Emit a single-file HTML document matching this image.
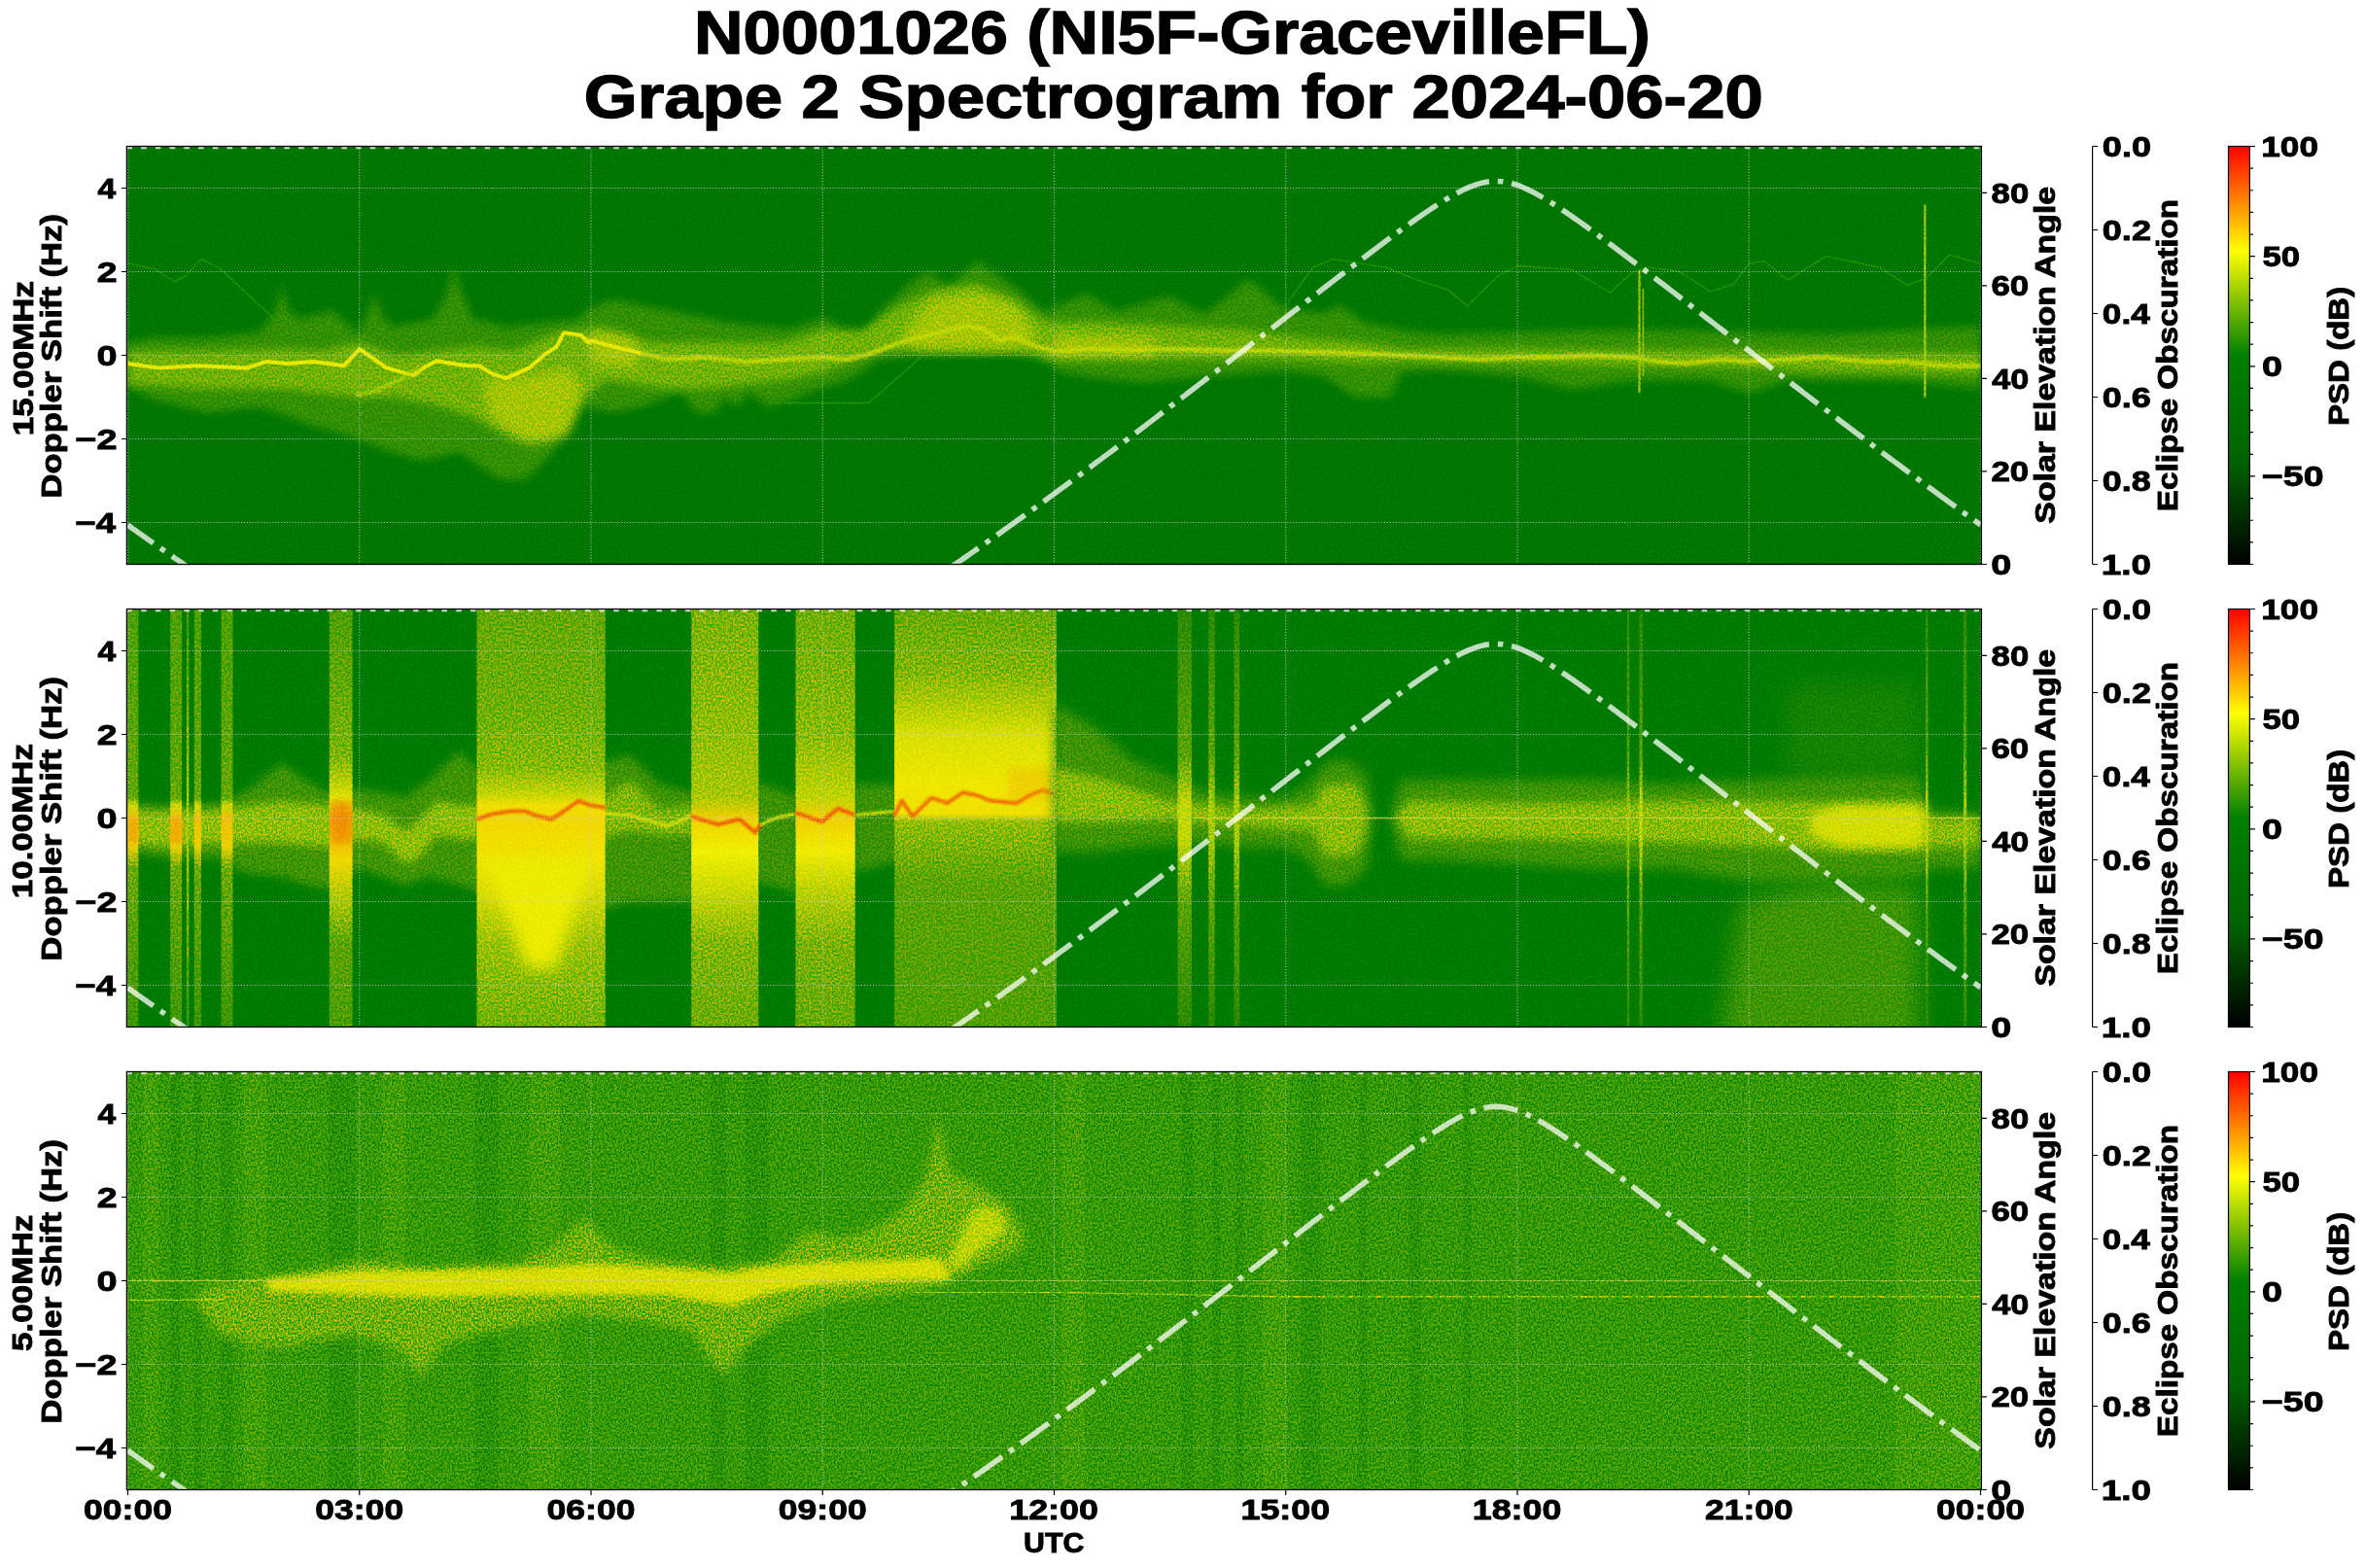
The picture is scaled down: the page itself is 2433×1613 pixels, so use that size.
<!DOCTYPE html><html><head><meta charset="utf-8"><style>html,body{margin:0;padding:0;background:#fff;overflow:hidden}svg{display:block;will-change:transform}text{font-family:'Liberation Sans',sans-serif;font-weight:bold}</style></head><body>
<svg width="2433" height="1613" viewBox="0 0 2433 1613">
<rect width="100%" height="100%" fill="#fff"/>
<defs><linearGradient id="cbg" x1="0" y1="1" x2="0" y2="0"><stop offset="0" stop-color="#000"/><stop offset="0.25" stop-color="#006400"/><stop offset="0.5" stop-color="#008000"/><stop offset="0.75" stop-color="#ffff00"/><stop offset="1" stop-color="#ff0000"/></linearGradient><filter id="b1" x="-20%" y="-50%" width="140%" height="200%"><feGaussianBlur stdDeviation="1"/></filter><filter id="b1_5" x="-20%" y="-50%" width="140%" height="200%"><feGaussianBlur stdDeviation="1.5"/></filter><filter id="b2" x="-20%" y="-50%" width="140%" height="200%"><feGaussianBlur stdDeviation="2"/></filter><filter id="b3" x="-20%" y="-50%" width="140%" height="200%"><feGaussianBlur stdDeviation="3"/></filter><filter id="b4" x="-20%" y="-50%" width="140%" height="200%"><feGaussianBlur stdDeviation="4"/></filter><filter id="b5" x="-20%" y="-50%" width="140%" height="200%"><feGaussianBlur stdDeviation="5"/></filter><filter id="b6" x="-20%" y="-50%" width="140%" height="200%"><feGaussianBlur stdDeviation="6"/></filter><filter id="b8" x="-20%" y="-50%" width="140%" height="200%"><feGaussianBlur stdDeviation="8"/></filter><filter id="b12" x="-20%" y="-50%" width="140%" height="200%"><feGaussianBlur stdDeviation="12"/></filter><filter id="grain0" x="0" y="0" width="100%" height="100%" color-interpolation-filters="sRGB"><feTurbulence type="fractalNoise" baseFrequency="0.55 0.45" numOctaves="2" seed="7"/><feColorMatrix type="matrix" values="1 0 0 0 0 1 0 0 0 0 1 0 0 0 0 0 0 0 0 1"/><feComponentTransfer><feFuncR type="linear" slope="3" intercept="-1"/></feComponentTransfer><feColorMatrix type="matrix" values="1 0 0 0 0 0.1 0 0 0 0.45 0 0 0 0 0.5 0 0 0 0 1"/></filter><filter id="grain1" x="0" y="0" width="100%" height="100%" color-interpolation-filters="sRGB"><feTurbulence type="fractalNoise" baseFrequency="0.55 0.45" numOctaves="2" seed="11"/><feColorMatrix type="matrix" values="1 0 0 0 0 1 0 0 0 0 1 0 0 0 0 0 0 0 0 1"/><feComponentTransfer><feFuncR type="linear" slope="3" intercept="-1"/></feComponentTransfer><feColorMatrix type="matrix" values="1 0 0 0 0 0.1 0 0 0 0.45 0 0 0 0 0.5 0 0 0 0 1"/></filter><filter id="grain2" x="0" y="0" width="100%" height="100%" color-interpolation-filters="sRGB"><feTurbulence type="fractalNoise" baseFrequency="0.55 0.45" numOctaves="2" seed="5"/><feColorMatrix type="matrix" values="1 0 0 0 0 1 0 0 0 0 1 0 0 0 0 0 0 0 0 1"/><feComponentTransfer><feFuncR type="linear" slope="3" intercept="-1"/></feComponentTransfer><feColorMatrix type="matrix" values="1 0 0 0 0 0.2 0 0 0 0.4 0 0 0 0 0.5 0 0 0 0 1"/></filter></defs>
<text x="714.02" y="55.00" font-size="63" textLength="983.76" lengthAdjust="spacingAndGlyphs" fill="#000" stroke="#000" stroke-width="1.4">N0001026 (NI5F-GracevilleFL)</text>
<text x="600.80" y="121.30" font-size="63" textLength="1212.89" lengthAdjust="spacingAndGlyphs" fill="#000" stroke="#000" stroke-width="1.4">Grape 2 Spectrogram for 2024-06-20</text>
<clipPath id="cp0"><rect x="130.4" y="150.5" width="1908.0" height="430.0"/></clipPath>
<g clip-path="url(#cp0)">
<rect x="130.4" y="150.5" width="1908.0" height="430.0" fill="#007600"/><polygon points="130.0,353.0 157.4,347.5 212.3,347.5 267.1,342.0 283.6,320.0 289.0,295.4 297.3,320.0 308.2,328.3 322.0,324.8 341.1,320.0 368.6,342.0 379.5,320.0 385.0,300.9 393.3,325.5 404.2,336.5 431.6,331.0 445.4,328.3 459.1,303.6 467.3,273.4 472.8,293.5 475.5,303.6 486.5,328.3 513.9,334.6 522.1,336.5 541.3,334.2 568.8,331.0 596.2,328.3 600.0,320.5 630.4,308.3 660.9,314.4 691.3,320.5 700.4,322.3 715.6,325.3 737.0,329.6 743.0,330.8 752.2,332.6 758.3,333.3 770.4,334.5 788.7,336.3 813.1,338.7 843.5,328.6 849.6,326.6 873.9,344.8 889.2,347.9 892.2,342.4 904.4,320.5 934.8,293.1 950.0,282.2 956.1,277.9 974.4,296.1 1004.8,268.7 1041.4,293.1 1071.8,318.0 1074.8,320.5 1087.0,315.3 1117.5,302.2 1147.9,320.5 1178.3,312.0 1202.7,305.3 1239.2,323.5 1284.9,287.0 1319.9,317.4 1362.5,322.5 1378.3,313.9 1394.2,325.4 1402.2,331.1 1430.0,337.1 1441.9,339.7 1481.6,344.0 1561.0,341.9 1616.6,340.3 1640.4,339.7 1680.1,339.7 1719.8,339.7 1759.5,340.8 1799.2,341.9 1839.0,342.9 1878.7,344.0 1958.1,339.7 2037.5,335.4 2037.5,399.9 1958.1,391.3 1878.7,391.3 1839.0,391.3 1799.2,404.2 1759.5,391.3 1719.8,391.3 1680.1,391.3 1640.4,396.7 1616.6,399.9 1561.0,387.0 1481.6,380.6 1441.9,382.7 1430.0,408.5 1402.2,408.5 1394.2,408.5 1378.3,397.7 1362.5,387.0 1319.9,381.4 1284.9,384.0 1239.2,387.4 1202.7,391.1 1178.3,393.5 1147.9,390.5 1117.5,387.4 1087.0,381.4 1074.8,368.0 1071.8,364.6 1041.4,364.6 1004.8,364.6 974.4,364.6 956.1,364.6 950.0,364.6 934.8,366.1 904.4,369.2 892.2,378.3 889.2,380.3 873.9,390.5 849.6,397.8 843.5,399.6 813.1,411.8 788.7,417.9 770.4,402.7 758.3,417.9 752.2,414.2 743.0,408.8 737.0,424.0 715.6,424.0 700.4,402.7 691.3,406.2 660.9,417.9 630.4,424.0 600.0,417.9 596.2,423.7 568.8,465.4 541.3,492.8 522.1,492.8 513.9,492.8 486.5,474.6 475.5,467.2 472.8,465.4 467.3,466.5 459.1,468.2 445.4,470.9 431.6,473.6 404.2,465.4 393.3,461.2 385.0,458.0 379.5,455.9 368.6,451.7 341.1,443.6 322.0,438.0 308.2,433.2 297.3,429.3 289.0,426.5 283.6,424.5 267.1,418.8 212.3,424.3 157.4,410.6 130.0,396.8" fill="#329000" fill-opacity="1" filter="url(#b4)"/><polygon points="131.5,361.2 210.9,361.2 290.3,359.1 330.0,361.2 369.8,352.6 409.5,365.5 449.2,361.2 488.9,356.9 528.6,361.2 568.3,344.0 600.1,339.7 623.9,339.7 655.6,350.4 687.4,352.6 727.1,352.6 766.8,352.6 806.5,352.6 846.2,339.7 886.0,339.7 901.8,331.1 925.7,313.9 965.4,296.7 1005.1,292.4 1044.8,309.6 1076.6,331.1 1124.2,331.1 1203.6,335.4 1283.0,339.7 1322.8,346.1 1402.2,352.6 1441.9,359.1 1561.0,359.1 1799.2,361.2 1878.7,363.4 2037.5,363.4 2037.5,384.9 1878.7,382.7 1799.2,378.4 1561.0,374.1 1441.9,371.9 1402.2,374.1 1322.8,369.8 1283.0,369.8 1203.6,369.8 1124.2,369.8 1076.6,369.8 1044.8,361.2 1005.1,361.2 965.4,361.2 925.7,361.2 901.8,363.4 886.0,367.6 846.2,382.7 806.5,391.3 766.8,395.6 727.1,399.9 687.4,399.9 655.6,395.6 623.9,391.3 600.1,408.5 568.3,451.5 528.6,451.5 488.9,430.0 449.2,417.1 409.5,408.5 369.8,408.5 330.0,404.2 290.3,399.9 210.9,399.9 131.5,395.6" fill="#70b200" fill-opacity="1" filter="url(#b4)"/><polygon points="496.8,391.3 544.5,387.0 584.2,378.4 600.1,399.9 584.2,447.2 544.5,455.8 504.8,430.0" fill="#a4c600" filter="url(#b6)"/><polygon points="925.7,348.3 957.4,309.6 1005.1,301.0 1044.8,313.9 1068.6,348.3 1044.8,359.1 949.5,359.1" fill="#a4c600" filter="url(#b6)"/><polygon points="1084.5,344.0 1187.7,348.3 1187.7,365.5 1084.5,365.5" fill="#a4c600" filter="url(#b6)"/><polygon points="608.0,339.7 655.6,348.3 655.6,378.4 608.0,374.1" fill="#a4c600" filter="url(#b6)"/><polyline points="659.6,363.4 687.4,369.8 727.1,367.6 766.8,371.9 806.5,369.8 846.2,367.6 870.1,369.8 889.9,365.5 925.7,352.6 957.4,344.0 997.1,335.4 1013.0,339.7 1028.9,350.4 1044.8,346.1 1060.7,354.8 1084.5,361.2 1124.2,359.1 1163.9,360.3 1203.6,359.1 1243.3,360.3 1322.8,361.2 1402.2,363.4 1441.9,365.5 1481.6,367.6 1521.3,369.8 1561.0,367.6 1600.7,367.6 1640.4,365.5 1680.1,367.6 1704.0,371.9 1735.7,374.1 1767.5,369.8 1799.2,371.9 1839.0,369.8 1878.7,367.6 1918.4,371.9 1958.1,371.9 1997.8,376.2 2037.5,376.2" fill="none" stroke="#c8da00" stroke-width="4" stroke-opacity="1" stroke-linejoin="round" filter="url(#b1_5)"/><polyline points="131.5,374.1 163.3,378.4 203.0,376.2 254.6,378.4 274.5,371.9 295.9,374.1 322.1,371.9 353.9,376.2 369.8,359.1 397.5,378.4 425.3,386.1 435.7,378.4 449.2,371.1 465.1,374.1 480.9,376.2 492.8,376.2 507.1,384.9 520.6,389.1 544.5,378.4 561.9,363.4 572.3,356.9 580.2,342.3 597.7,344.9 605.6,352.6 608.0,350.4 631.8,356.9 659.6,363.4" fill="none" stroke="#e6e800" stroke-width="4" stroke-opacity="1" stroke-linejoin="round" filter="url(#b1_2)"/><polyline points="365.8,406.4 385.6,402.1 409.5,391.3 433.3,378.4" fill="none" stroke="#b8d400" stroke-width="3.5" stroke-opacity="0.9" stroke-linejoin="round" filter="url(#b1_5)"/><polyline points="1686.5,277.4 1686.5,404.2" fill="none" stroke="#a8cc00" stroke-width="2.2" stroke-opacity="0.9" stroke-linejoin="round"/><polyline points="1690.4,296.7 1690.4,387.0" fill="none" stroke="#a8cc00" stroke-width="1.5" stroke-opacity="0.8" stroke-linejoin="round"/><polyline points="1980.3,210.7 1980.3,408.5" fill="none" stroke="#b0d000" stroke-width="2.2" stroke-opacity="0.9" stroke-linejoin="round"/><polyline points="131.5,270.9 159.3,276.5 179.2,289.8 191.1,283.8 206.9,266.6 226.8,276.5 282.4,328.5 314.2,344.0" fill="none" stroke="#2c9a00" stroke-width="1.3" stroke-opacity="0.8" stroke-linejoin="round"/><polyline points="790.7,414.5 893.9,414.5 949.5,365.5" fill="none" stroke="#2c9a00" stroke-width="1.3" stroke-opacity="0.8" stroke-linejoin="round"/><polyline points="1283.0,326.8 1322.8,313.9 1350.5,275.2 1370.4,266.6 1426.0,275.2 1457.8,288.1 1489.5,298.0 1509.4,314.8 1541.1,283.8 1561.0,273.5 1616.6,277.4 1656.3,301.0 1680.1,279.5 1696.0,274.8 1727.8,279.5 1759.5,300.1 1783.4,292.4 1799.2,270.9 1815.1,268.8 1839.0,288.1 1878.7,263.6 1934.3,275.2 1962.1,293.7 1981.9,285.9 2005.7,262.3 2037.5,270.9" fill="none" stroke="#2c9a00" stroke-width="1.3" stroke-opacity="0.8" stroke-linejoin="round"/>
<rect x="130.4" y="150.5" width="1908.0" height="430.0" filter="url(#grain0)" style="mix-blend-mode:overlay" opacity="0.6"/>
<path d="M131.50 150.5V580.5M369.75 150.5V580.5M608.00 150.5V580.5M846.25 150.5V580.5M1084.50 150.5V580.5M1322.75 150.5V580.5M1561.00 150.5V580.5M1799.25 150.5V580.5M2037.50 150.5V580.5M130.4 537.50H2038.4M130.4 451.50H2038.4M130.4 365.50H2038.4M130.4 279.50H2038.4M130.4 193.50H2038.4" stroke="#c8c8c8" stroke-opacity="0.85" stroke-width="1.11" stroke-dasharray="1.11 1.83" fill="none"/>
<path d="M130.4 150.50H2038.4" stroke="#fff" stroke-opacity="0.75" stroke-width="5.56" stroke-dasharray="5.56 9.17" fill="none"/>
<polyline points="131.50,540.12 134.15,542.02 136.79,543.91 139.44,545.79 142.09,547.68 144.74,549.56 147.38,551.43 150.03,553.31 152.68,555.18 155.32,557.04 157.97,558.90 160.62,560.76 163.27,562.62 165.91,564.47 168.56,566.32 171.21,568.16 173.86,570.00 176.50,571.84 179.15,573.67 181.80,575.50 184.44,577.32 187.09,579.14 189.74,580.96 192.39,582.77 195.03,584.58 197.68,586.38 200.33,588.18 202.98,589.97 205.62,591.76 208.27,593.54 210.92,595.32 213.56,597.10 216.21,598.87 218.86,600.63 221.51,602.39 224.15,604.15 226.80,605.90 229.45,607.64 232.09,609.38 234.74,611.12 237.39,612.84 240.04,614.57 242.68,616.29 245.33,618.00 247.98,619.70 250.62,621.40 253.27,623.10 255.92,624.79 258.57,626.47 261.21,628.15 263.86,629.82 266.51,631.48 269.16,633.14 271.80,634.79 274.45,636.44 277.10,638.07 279.74,639.71 282.39,641.33 285.04,642.95 287.69,644.56 290.33,646.16 292.98,647.76 295.63,649.35 298.27,650.93 300.92,652.50 303.57,654.07 306.22,655.63 308.86,657.18 311.51,658.72 314.16,660.26 316.81,661.79 319.45,663.31 322.10,664.82 324.75,666.32 327.39,667.81 330.04,669.30 332.69,670.77 335.34,672.24 337.98,673.70 340.63,675.14 343.28,676.58 345.93,678.01 348.57,679.43 351.22,680.85 353.87,682.25 356.51,683.64 359.16,685.02 361.81,686.39 364.46,687.75 367.10,689.10 369.75,690.44 372.40,691.77 375.04,693.09 377.69,694.39 380.34,695.69 382.99,696.97 385.63,698.25 388.28,699.51 390.93,700.76 393.57,701.99 396.22,703.22 398.87,704.43 401.52,705.64 404.16,706.82 406.81,708.00 409.46,709.16 412.11,710.32 414.75,711.45 417.40,712.58 420.05,713.69 422.69,714.79 425.34,715.87 427.99,716.94 430.64,718.00 433.28,719.04 435.93,720.07 438.58,721.08 441.23,722.08 443.87,723.06 446.52,724.03 449.17,724.99 451.81,725.93 454.46,726.85 457.11,727.76 459.76,728.65 462.40,729.53 465.05,730.39 467.70,731.24 470.34,732.06 472.99,732.88 475.64,733.67 478.29,734.45 480.93,735.21 483.58,735.96 486.23,736.69 488.88,737.40 491.52,738.09 494.17,738.77 496.82,739.43 499.46,740.07 502.11,740.69 504.76,741.30 507.41,741.88 510.05,742.45 512.70,743.00 515.35,743.53 517.99,744.05 520.64,744.54 523.29,745.02 525.94,745.47 528.58,745.91 531.23,746.33 533.88,746.73 536.52,747.11 539.17,747.47 541.82,747.81 544.47,748.13 547.11,748.43 549.76,748.72 552.41,748.98 555.06,749.22 557.70,749.45 560.35,749.65 563.00,749.83 565.64,749.99 568.29,750.14 570.94,750.26 573.59,750.36 576.23,750.45 578.88,750.51 581.53,750.55 584.18,750.57 586.82,750.58 589.47,750.56 592.12,750.52 594.76,750.46 597.41,750.38 600.06,750.29 602.71,750.17 605.35,750.03 608.00,749.87 610.65,749.69 613.29,749.49 615.94,749.27 618.59,749.04 621.24,748.78 623.88,748.50 626.53,748.20 629.18,747.89 631.83,747.55 634.47,747.19 637.12,746.82 639.77,746.42 642.41,746.01 645.06,745.57 647.71,745.12 650.36,744.65 653.00,744.16 655.65,743.65 658.30,743.12 660.94,742.58 663.59,742.01 666.24,741.43 668.89,740.83 671.53,740.21 674.18,739.58 676.83,738.92 679.48,738.25 682.12,737.56 684.77,736.85 687.42,736.13 690.06,735.39 692.71,734.63 695.36,733.85 698.01,733.06 700.65,732.25 703.30,731.43 705.95,730.59 708.59,729.73 711.24,728.85 713.89,727.97 716.54,727.06 719.18,726.14 721.83,725.20 724.48,724.25 727.12,723.29 729.77,722.31 732.42,721.31 735.07,720.30 737.71,719.28 740.36,718.24 743.01,717.18 745.66,716.12 748.30,715.04 750.95,713.94 753.60,712.83 756.24,711.71 758.89,710.58 761.54,709.43 764.19,708.27 766.83,707.09 769.48,705.91 772.13,704.71 774.77,703.50 777.42,702.28 780.07,701.04 782.72,699.79 785.36,698.53 788.01,697.26 790.66,695.98 793.31,694.69 795.95,693.39 798.60,692.07 801.25,690.74 803.89,689.41 806.54,688.06 809.19,686.70 811.84,685.33 814.48,683.95 817.13,682.57 819.78,681.17 822.42,679.76 825.07,678.34 827.72,676.91 830.37,675.48 833.01,674.03 835.66,672.57 838.31,671.11 840.96,669.63 843.60,668.15 846.25,666.66 848.90,665.16 851.54,663.65 854.19,662.13 856.84,660.61 859.49,659.08 862.13,657.54 864.78,655.99 867.43,654.43 870.08,652.86 872.72,651.29 875.37,649.71 878.02,648.12 880.66,646.53 883.31,644.93 885.96,643.32 888.61,641.70 891.25,640.08 893.90,638.45 896.55,636.81 899.19,635.17 901.84,633.52 904.49,631.86 907.14,630.20 909.78,628.53 912.43,626.86 915.08,625.17 917.73,623.49 920.37,621.79 923.02,620.09 925.67,618.39 928.31,616.68 930.96,614.96 933.61,613.24 936.26,611.51 938.90,609.78 941.55,608.04 944.20,606.30 946.84,604.55 949.49,602.80 952.14,601.04 954.79,599.27 957.43,597.50 960.08,595.73 962.73,593.95 965.38,592.17 968.02,590.38 970.67,588.59 973.32,586.79 975.96,584.99 978.61,583.18 981.26,581.37 983.91,579.56 986.55,577.74 989.20,575.92 991.85,574.09 994.49,572.26 997.14,570.42 999.79,568.58 1002.44,566.74 1005.08,564.89 1007.73,563.04 1010.38,561.19 1013.02,559.33 1015.67,557.47 1018.32,555.60 1020.97,553.74 1023.61,551.86 1026.26,549.99 1028.91,548.11 1031.56,546.23 1034.20,544.34 1036.85,542.45 1039.50,540.56 1042.14,538.66 1044.79,536.76 1047.44,534.86 1050.09,532.96 1052.73,531.05 1055.38,529.14 1058.03,527.22 1060.67,525.31 1063.32,523.39 1065.97,521.47 1068.62,519.54 1071.26,517.61 1073.91,515.68 1076.56,513.75 1079.21,511.81 1081.85,509.88 1084.50,507.94 1087.15,505.99 1089.79,504.05 1092.44,502.10 1095.09,500.15 1097.74,498.20 1100.38,496.24 1103.03,494.28 1105.68,492.32 1108.33,490.36 1110.97,488.40 1113.62,486.43 1116.27,484.46 1118.91,482.49 1121.56,480.52 1124.21,478.54 1126.86,476.57 1129.50,474.59 1132.15,472.61 1134.80,470.62 1137.44,468.64 1140.09,466.65 1142.74,464.67 1145.39,462.68 1148.03,460.68 1150.68,458.69 1153.33,456.70 1155.98,454.70 1158.62,452.70 1161.27,450.70 1163.92,448.70 1166.56,446.69 1169.21,444.69 1171.86,442.68 1174.51,440.68 1177.15,438.67 1179.80,436.65 1182.45,434.64 1185.09,432.63 1187.74,430.61 1190.39,428.60 1193.04,426.58 1195.68,424.56 1198.33,422.54 1200.98,420.52 1203.62,418.50 1206.27,416.47 1208.92,414.45 1211.57,412.42 1214.21,410.39 1216.86,408.37 1219.51,406.34 1222.16,404.31 1224.80,402.27 1227.45,400.24 1230.10,398.21 1232.74,396.17 1235.39,394.14 1238.04,392.10 1240.69,390.07 1243.33,388.03 1245.98,385.99 1248.63,383.95 1251.28,381.91 1253.92,379.87 1256.57,377.83 1259.22,375.79 1261.86,373.74 1264.51,371.70 1267.16,369.66 1269.81,367.61 1272.45,365.57 1275.10,363.52 1277.75,361.48 1280.39,359.43 1283.04,357.39 1285.69,355.34 1288.34,353.29 1290.98,351.24 1293.63,349.20 1296.28,347.15 1298.92,345.10 1301.57,343.05 1304.22,341.00 1306.87,338.96 1309.51,336.91 1312.16,334.86 1314.81,332.81 1317.46,330.76 1320.10,328.71 1322.75,326.67 1325.40,324.62 1328.04,322.57 1330.69,320.53 1333.34,318.48 1335.99,316.43 1338.63,314.39 1341.28,312.34 1343.93,310.30 1346.58,308.26 1349.22,306.21 1351.87,304.17 1354.52,302.13 1357.16,300.09 1359.81,298.05 1362.46,296.01 1365.11,293.98 1367.75,291.94 1370.40,289.91 1373.05,287.88 1375.69,285.85 1378.34,283.82 1380.99,281.79 1383.64,279.77 1386.28,277.74 1388.93,275.72 1391.58,273.70 1394.23,271.69 1396.87,269.68 1399.52,267.67 1402.17,265.66 1404.81,263.66 1407.46,261.66 1410.11,259.66 1412.76,257.67 1415.40,255.68 1418.05,253.70 1420.70,251.72 1423.34,249.75 1425.99,247.78 1428.64,245.82 1431.29,243.86 1433.93,241.91 1436.58,239.97 1439.23,238.04 1441.88,236.11 1444.52,234.19 1447.17,232.29 1449.82,230.39 1452.46,228.50 1455.11,226.63 1457.76,224.77 1460.41,222.92 1463.05,221.09 1465.70,219.27 1468.35,217.48 1470.99,215.70 1473.64,213.94 1476.29,212.20 1478.94,210.49 1481.58,208.80 1484.23,207.15 1486.88,205.52 1489.53,203.93 1492.17,202.38 1494.82,200.87 1497.47,199.41 1500.11,197.99 1502.76,196.63 1505.41,195.32 1508.06,194.08 1510.70,192.92 1513.35,191.82 1516.00,190.81 1518.64,189.89 1521.29,189.06 1523.94,188.33 1526.59,187.71 1529.23,187.20 1531.88,186.81 1534.53,186.54 1537.17,186.39 1539.82,186.37 1542.47,186.48 1545.12,186.70 1547.76,187.05 1550.41,187.52 1553.06,188.10 1555.71,188.79 1558.35,189.59 1561.00,190.48 1563.65,191.46 1566.29,192.53 1568.94,193.67 1571.59,194.89 1574.24,196.17 1576.88,197.51 1579.53,198.91 1582.18,200.36 1584.83,201.85 1587.47,203.39 1590.12,204.97 1592.77,206.58 1595.41,208.23 1598.06,209.90 1600.71,211.60 1603.36,213.33 1606.00,215.08 1608.65,216.86 1611.30,218.65 1613.94,220.46 1616.59,222.29 1619.24,224.13 1621.89,225.98 1624.53,227.85 1627.18,229.73 1629.83,231.63 1632.47,233.53 1635.12,235.44 1637.77,237.37 1640.42,239.30 1643.06,241.24 1645.71,243.18 1648.36,245.14 1651.01,247.10 1653.65,249.06 1656.30,251.03 1658.95,253.01 1661.59,254.99 1664.24,256.98 1666.89,258.97 1669.54,260.96 1672.18,262.96 1674.83,264.96 1677.48,266.97 1680.12,268.98 1682.77,270.99 1685.42,273.00 1688.07,275.02 1690.71,277.04 1693.36,279.06 1696.01,281.09 1698.66,283.11 1701.30,285.14 1703.95,287.17 1706.60,289.20 1709.24,291.24 1711.89,293.27 1714.54,295.31 1717.19,297.34 1719.83,299.38 1722.48,301.42 1725.13,303.46 1727.78,305.50 1730.42,307.55 1733.07,309.59 1735.72,311.63 1738.36,313.68 1741.01,315.72 1743.66,317.77 1746.31,319.81 1748.95,321.86 1751.60,323.91 1754.25,325.96 1756.89,328.00 1759.54,330.05 1762.19,332.10 1764.84,334.15 1767.48,336.20 1770.13,338.24 1772.78,340.29 1775.42,342.34 1778.07,344.39 1780.72,346.44 1783.37,348.48 1786.01,350.53 1788.66,352.58 1791.31,354.63 1793.96,356.67 1796.60,358.72 1799.25,360.77 1801.90,362.81 1804.54,364.86 1807.19,366.90 1809.84,368.95 1812.49,370.99 1815.13,373.03 1817.78,375.08 1820.43,377.12 1823.08,379.16 1825.72,381.20 1828.37,383.24 1831.02,385.28 1833.66,387.32 1836.31,389.36 1838.96,391.39 1841.61,393.43 1844.25,395.47 1846.90,397.50 1849.55,399.53 1852.19,401.57 1854.84,403.60 1857.49,405.63 1860.14,407.66 1862.78,409.69 1865.43,411.72 1868.08,413.74 1870.72,415.77 1873.37,417.79 1876.02,419.81 1878.67,421.84 1881.31,423.86 1883.96,425.88 1886.61,427.89 1889.26,429.91 1891.90,431.93 1894.55,433.94 1897.20,435.95 1899.84,437.96 1902.49,439.97 1905.14,441.98 1907.79,443.99 1910.43,445.99 1913.08,448.00 1915.73,450.00 1918.38,452.00 1921.02,454.00 1923.67,456.00 1926.32,457.99 1928.96,459.99 1931.61,461.98 1934.26,463.97 1936.91,465.96 1939.55,467.95 1942.20,469.93 1944.85,471.91 1947.49,473.90 1950.14,475.87 1952.79,477.85 1955.44,479.83 1958.08,481.80 1960.73,483.77 1963.38,485.74 1966.03,487.71 1968.67,489.67 1971.32,491.64 1973.97,493.60 1976.61,495.55 1979.26,497.51 1981.91,499.46 1984.56,501.42 1987.20,503.36 1989.85,505.31 1992.50,507.25 1995.14,509.20 1997.79,511.14 2000.44,513.07 2003.09,515.01 2005.73,516.94 2008.38,518.87 2011.03,520.79 2013.67,522.71 2016.32,524.63 2018.97,526.55 2021.62,528.47 2024.26,530.38 2026.91,532.29 2029.56,534.19 2032.21,536.10 2034.85,538.00 2037.50,539.89" stroke="#fff" stroke-opacity="0.75" stroke-width="5.56" stroke-dasharray="35.6 8.9 5.56 8.9" fill="none" stroke-dashoffset="3.4"/>
</g>
<rect x="130.4" y="150.5" width="1908.0" height="430.0" fill="none" stroke="#000" stroke-width="1.3"/>
<text x="77.48" y="547.90" font-size="30" textLength="41.72" lengthAdjust="spacingAndGlyphs" fill="#000" stroke="#000" stroke-width="0.9">−4</text>
<text x="77.43" y="461.90" font-size="30" textLength="43.08" lengthAdjust="spacingAndGlyphs" fill="#000" stroke="#000" stroke-width="0.9">−2</text>
<text x="99.50" y="375.90" font-size="30" textLength="21.05" lengthAdjust="spacingAndGlyphs" fill="#000" stroke="#000" stroke-width="0.9">0</text>
<text x="99.70" y="289.90" font-size="30" textLength="20.79" lengthAdjust="spacingAndGlyphs" fill="#000" stroke="#000" stroke-width="0.9">2</text>
<text x="100.49" y="203.90" font-size="30" textLength="18.69" lengthAdjust="spacingAndGlyphs" fill="#000" stroke="#000" stroke-width="0.9">4</text>
<text x="2048.20" y="590.80" font-size="30" textLength="21.05" lengthAdjust="spacingAndGlyphs" fill="#000" stroke="#000" stroke-width="0.9">0</text>
<text x="2048.49" y="495.24" font-size="30" textLength="38.74" lengthAdjust="spacingAndGlyphs" fill="#000" stroke="#000" stroke-width="0.9">20</text>
<text x="2049.18" y="399.69" font-size="30" textLength="38.02" lengthAdjust="spacingAndGlyphs" fill="#000" stroke="#000" stroke-width="0.9">40</text>
<text x="2048.42" y="304.13" font-size="30" textLength="38.81" lengthAdjust="spacingAndGlyphs" fill="#000" stroke="#000" stroke-width="0.9">60</text>
<text x="2048.60" y="208.58" font-size="30" textLength="38.63" lengthAdjust="spacingAndGlyphs" fill="#000" stroke="#000" stroke-width="0.9">80</text>
<text x="2162.77" y="160.80" font-size="30" textLength="50.32" lengthAdjust="spacingAndGlyphs" fill="#000" stroke="#000" stroke-width="0.9">0.0</text>
<text x="2162.77" y="246.80" font-size="30" textLength="50.28" lengthAdjust="spacingAndGlyphs" fill="#000" stroke="#000" stroke-width="0.9">0.2</text>
<text x="2162.81" y="332.80" font-size="30" textLength="48.98" lengthAdjust="spacingAndGlyphs" fill="#000" stroke="#000" stroke-width="0.9">0.4</text>
<text x="2162.77" y="418.80" font-size="30" textLength="50.13" lengthAdjust="spacingAndGlyphs" fill="#000" stroke="#000" stroke-width="0.9">0.6</text>
<text x="2162.78" y="504.80" font-size="30" textLength="49.93" lengthAdjust="spacingAndGlyphs" fill="#000" stroke="#000" stroke-width="0.9">0.8</text>
<text x="2161.88" y="590.80" font-size="30" textLength="51.23" lengthAdjust="spacingAndGlyphs" fill="#000" stroke="#000" stroke-width="0.9">1.0</text>
<text x="2326.28" y="160.80" font-size="30" textLength="58.76" lengthAdjust="spacingAndGlyphs" fill="#000" stroke="#000" stroke-width="0.9">100</text>
<text x="2327.43" y="273.96" font-size="30" textLength="38.70" lengthAdjust="spacingAndGlyphs" fill="#000" stroke="#000" stroke-width="0.9">50</text>
<text x="2327.00" y="387.12" font-size="30" textLength="21.05" lengthAdjust="spacingAndGlyphs" fill="#000" stroke="#000" stroke-width="0.9">0</text>
<text x="2326.94" y="500.27" font-size="30" textLength="63.59" lengthAdjust="spacingAndGlyphs" fill="#000" stroke="#000" stroke-width="0.9">−50</text>
<path d="M124.9 537.50H130.4M124.9 451.50H130.4M124.9 365.50H130.4M124.9 279.50H130.4M124.9 193.50H130.4M2038.4 580.50h5.5M2038.4 484.94h5.5M2038.4 389.39h5.5M2038.4 293.83h5.5M2038.4 198.28h5.5M2152.6 150.5V580.5M2152.6 150.50h5.5M2152.6 236.50h5.5M2152.6 322.50h5.5M2152.6 408.50h5.5M2152.6 494.50h5.5M2152.6 580.50h5.5M2314.4 580.50h3.5M2314.4 557.87h3.5M2314.4 535.24h3.5M2314.4 512.61h3.5M2314.4 489.97h5.5M2314.4 467.34h3.5M2314.4 444.71h3.5M2314.4 422.08h3.5M2314.4 399.45h3.5M2314.4 376.82h5.5M2314.4 354.18h3.5M2314.4 331.55h3.5M2314.4 308.92h3.5M2314.4 286.29h3.5M2314.4 263.66h5.5M2314.4 241.03h3.5M2314.4 218.39h3.5M2314.4 195.76h3.5M2314.4 173.13h3.5M2314.4 150.50h5.5" stroke="#000" stroke-width="1.2" fill="none"/>
<rect x="2292.5" y="150.5" width="21.90000000000009" height="430.0" fill="url(#cbg)" stroke="#000" stroke-width="1.2"/>
<text transform="translate(33.60,446.00) rotate(-90)" x="-2.20" y="0" font-size="30" textLength="159.06" lengthAdjust="spacingAndGlyphs" fill="#000" stroke="#000" stroke-width="0.9">15.00MHz</text>
<text transform="translate(62.70,510.30) rotate(-90)" x="-2.32" y="0" font-size="30" textLength="292.64" lengthAdjust="spacingAndGlyphs" fill="#000" stroke="#000" stroke-width="0.9">Doppler Shift (Hz)</text>
<text transform="translate(2114.10,537.70) rotate(-90)" x="-0.97" y="0" font-size="30" textLength="346.83" lengthAdjust="spacingAndGlyphs" fill="#000" stroke="#000" stroke-width="0.9">Solar Elevation Angle</text>
<text transform="translate(2240.00,524.00) rotate(-90)" x="-2.22" y="0" font-size="30" textLength="321.28" lengthAdjust="spacingAndGlyphs" fill="#000" stroke="#000" stroke-width="0.9">Eclipse Obscuration</text>
<text transform="translate(2415.70,435.80) rotate(-90)" x="-2.21" y="0" font-size="30" textLength="143.26" lengthAdjust="spacingAndGlyphs" fill="#000" stroke="#000" stroke-width="0.9">PSD (dB)</text>
<clipPath id="cp1"><rect x="130.4" y="626.5" width="1908.0" height="430.0"/></clipPath>
<g clip-path="url(#cp1)">
<defs><linearGradient id="g1" x1="0" y1="0" x2="0" y2="1"><stop offset="0.000" stop-color="#4ca000"/><stop offset="0.450" stop-color="#60a800"/><stop offset="0.470" stop-color="#c8d800"/><stop offset="0.500" stop-color="#f0c000"/><stop offset="0.570" stop-color="#e8d000"/><stop offset="0.620" stop-color="#6aaa00"/><stop offset="1.000" stop-color="#3c9600"/></linearGradient><linearGradient id="g2" x1="0" y1="0" x2="0" y2="1"><stop offset="0.000" stop-color="#4ca000"/><stop offset="0.450" stop-color="#60a800"/><stop offset="0.470" stop-color="#c8d800"/><stop offset="0.500" stop-color="#f0c000"/><stop offset="0.570" stop-color="#e8d000"/><stop offset="0.620" stop-color="#6aaa00"/><stop offset="1.000" stop-color="#3c9600"/></linearGradient><linearGradient id="g3" x1="0" y1="0" x2="0" y2="1"><stop offset="0.000" stop-color="#4ca000"/><stop offset="0.450" stop-color="#60a800"/><stop offset="0.470" stop-color="#c8d800"/><stop offset="0.500" stop-color="#f0c000"/><stop offset="0.570" stop-color="#e8d000"/><stop offset="0.620" stop-color="#6aaa00"/><stop offset="1.000" stop-color="#3c9600"/></linearGradient><linearGradient id="g4" x1="0" y1="0" x2="0" y2="1"><stop offset="0.000" stop-color="#4ca000"/><stop offset="0.450" stop-color="#60a800"/><stop offset="0.470" stop-color="#c8d800"/><stop offset="0.500" stop-color="#f0c000"/><stop offset="0.570" stop-color="#e8d000"/><stop offset="0.620" stop-color="#6aaa00"/><stop offset="1.000" stop-color="#3c9600"/></linearGradient><linearGradient id="g5" x1="0" y1="0" x2="0" y2="1"><stop offset="0.000" stop-color="#3c9600"/><stop offset="0.500" stop-color="#b0d000"/><stop offset="1.000" stop-color="#3c9600"/></linearGradient><linearGradient id="g6" x1="0" y1="0" x2="0" y2="1"><stop offset="0.000" stop-color="#4a9e00"/><stop offset="0.350" stop-color="#78b400"/><stop offset="0.450" stop-color="#e0e000"/><stop offset="0.500" stop-color="#f0a000"/><stop offset="0.600" stop-color="#f0d800"/><stop offset="0.700" stop-color="#a8c800"/><stop offset="0.800" stop-color="#5aa400"/><stop offset="1.000" stop-color="#4a9e00"/></linearGradient><linearGradient id="g7" x1="0" y1="0" x2="0" y2="1"><stop offset="0.000" stop-color="#62a800"/><stop offset="0.250" stop-color="#6eb000"/><stop offset="0.380" stop-color="#84ba00"/><stop offset="0.440" stop-color="#c0d400"/><stop offset="0.470" stop-color="#f0e000"/><stop offset="0.500" stop-color="#f2d800"/><stop offset="0.600" stop-color="#f0e400"/><stop offset="0.680" stop-color="#d8dc00"/><stop offset="0.800" stop-color="#98c200"/><stop offset="1.000" stop-color="#70b200"/></linearGradient><linearGradient id="g8" x1="0" y1="0" x2="0" y2="1"><stop offset="0.000" stop-color="#78b200"/><stop offset="0.300" stop-color="#90be00"/><stop offset="0.450" stop-color="#a8c800"/><stop offset="0.500" stop-color="#f0d000"/><stop offset="0.580" stop-color="#f0f000"/><stop offset="0.680" stop-color="#c8d800"/><stop offset="0.800" stop-color="#80b600"/><stop offset="1.000" stop-color="#6aac00"/></linearGradient><linearGradient id="g9" x1="0" y1="0" x2="0" y2="1"><stop offset="0.000" stop-color="#6cae00"/><stop offset="0.300" stop-color="#88ba00"/><stop offset="0.450" stop-color="#c0d400"/><stop offset="0.500" stop-color="#f0d000"/><stop offset="0.580" stop-color="#f0ec00"/><stop offset="0.680" stop-color="#b8d000"/><stop offset="0.800" stop-color="#78b200"/><stop offset="1.000" stop-color="#64aa00"/></linearGradient><linearGradient id="g10" x1="0" y1="0" x2="0" y2="1"><stop offset="0.000" stop-color="#64aa00"/><stop offset="0.150" stop-color="#80b600"/><stop offset="0.300" stop-color="#d8e000"/><stop offset="0.420" stop-color="#f0e800"/><stop offset="0.490" stop-color="#f0e000"/><stop offset="0.510" stop-color="#90be00"/><stop offset="0.650" stop-color="#5aa400"/><stop offset="1.000" stop-color="#4ea000"/></linearGradient><linearGradient id="g11" x1="0" y1="0" x2="0" y2="1"><stop offset="0.000" stop-color="#2a8a00"/><stop offset="0.350" stop-color="#5aa400"/><stop offset="0.470" stop-color="#c0d800"/><stop offset="0.550" stop-color="#c0d800"/><stop offset="0.700" stop-color="#5aa400"/><stop offset="1.000" stop-color="#2a8a00"/></linearGradient><linearGradient id="g12" x1="0" y1="0" x2="0" y2="1"><stop offset="0.000" stop-color="#2a8a00"/><stop offset="0.350" stop-color="#5aa400"/><stop offset="0.470" stop-color="#a8cc00"/><stop offset="0.550" stop-color="#a8cc00"/><stop offset="0.700" stop-color="#5aa400"/><stop offset="1.000" stop-color="#2a8a00"/></linearGradient><linearGradient id="g13" x1="0" y1="0" x2="0" y2="1"><stop offset="0.000" stop-color="#2a8a00"/><stop offset="0.350" stop-color="#5aa400"/><stop offset="0.470" stop-color="#a8cc00"/><stop offset="0.550" stop-color="#a8cc00"/><stop offset="0.700" stop-color="#5aa400"/><stop offset="1.000" stop-color="#2a8a00"/></linearGradient><linearGradient id="g14" x1="0" y1="0" x2="0" y2="1"><stop offset="0.000" stop-color="#2a8a00"/><stop offset="0.350" stop-color="#5aa400"/><stop offset="0.470" stop-color="#a0c800"/><stop offset="0.550" stop-color="#a0c800"/><stop offset="0.700" stop-color="#5aa400"/><stop offset="1.000" stop-color="#2a8a00"/></linearGradient><linearGradient id="g15" x1="0" y1="0" x2="0" y2="1"><stop offset="0.000" stop-color="#2a8a00"/><stop offset="0.350" stop-color="#5aa400"/><stop offset="0.470" stop-color="#c0d800"/><stop offset="0.550" stop-color="#c0d800"/><stop offset="0.700" stop-color="#5aa400"/><stop offset="1.000" stop-color="#2a8a00"/></linearGradient><linearGradient id="g16" x1="0" y1="0" x2="0" y2="1"><stop offset="0.000" stop-color="#2a8a00"/><stop offset="0.350" stop-color="#5aa400"/><stop offset="0.470" stop-color="#c0d800"/><stop offset="0.550" stop-color="#c0d800"/><stop offset="0.700" stop-color="#5aa400"/><stop offset="1.000" stop-color="#2a8a00"/></linearGradient><linearGradient id="g17" x1="0" y1="0" x2="0" y2="1"><stop offset="0.000" stop-color="#2a8a00"/><stop offset="0.350" stop-color="#5aa400"/><stop offset="0.470" stop-color="#a0c800"/><stop offset="0.550" stop-color="#a0c800"/><stop offset="0.700" stop-color="#5aa400"/><stop offset="1.000" stop-color="#2a8a00"/></linearGradient></defs><rect x="130.4" y="626.5" width="1908.0" height="430.0" fill="#007b00"/><polygon points="131.5,826.5 171.2,828.6 226.8,826.5 250.6,815.7 290.3,785.6 314.2,802.8 338.0,815.7 369.8,811.4 393.6,815.7 417.4,820.0 441.2,802.8 473.0,772.7 496.8,798.5 496.8,918.9 473.0,910.3 441.2,901.7 417.4,910.3 393.6,901.7 369.8,893.1 338.0,914.6 314.2,910.3 290.3,901.7 250.6,897.4 226.8,882.4 171.2,882.4 131.5,875.9" fill="#3c9400" fill-opacity="1" filter="url(#b5)"/><polygon points="131.5,832.9 171.2,835.0 226.8,832.9 258.6,828.6 290.3,824.3 338.0,828.6 369.8,832.9 393.6,837.2 417.4,854.4 433.3,841.5 449.2,824.3 473.0,828.6 496.8,828.6 496.8,863.0 473.0,863.0 449.2,858.7 433.3,880.2 417.4,888.8 393.6,867.3 369.8,863.0 338.0,871.6 290.3,867.3 258.6,867.3 226.8,867.3 171.2,871.6 131.5,867.3" fill="#8cbe00" fill-opacity="1" filter="url(#b4)"/><polygon points="615.9,785.6 647.7,777.0 679.5,807.1 715.2,815.7 715.2,927.5 679.5,927.5 647.7,927.5 615.9,936.1" fill="#3c9400" fill-opacity="1" filter="url(#b5)"/><polygon points="615.9,824.3 647.7,802.8 679.5,832.9 715.2,828.6 715.2,858.7 679.5,858.7 647.7,854.4 615.9,863.0" fill="#80b800" fill-opacity="1" filter="url(#b4)"/><polygon points="774.8,802.8 822.4,820.0 822.4,918.9 774.8,906.0" fill="#3a9200" fill-opacity="1" filter="url(#b5)"/><polygon points="878.0,807.1 925.7,807.1 925.7,884.5 878.0,897.4" fill="#3a9200" fill-opacity="1" filter="url(#b5)"/><rect x="131.5" y="626.5" width="10.8" height="430.0" fill="url(#g1)" fill-opacity="1.0"/><rect x="175.2" y="626.5" width="11.9" height="430.0" fill="url(#g2)" fill-opacity="1.0"/><rect x="199.8" y="626.5" width="7.1" height="430.0" fill="url(#g3)" fill-opacity="1.0"/><rect x="227.6" y="626.5" width="11.9" height="430.0" fill="url(#g4)" fill-opacity="1.0"/><rect x="191.9" y="626.5" width="2.4" height="430.0" fill="url(#g5)" fill-opacity="1.0"/><rect x="338.8" y="626.5" width="23.8" height="430.0" fill="url(#g6)" fill-opacity="1.0"/><rect x="490.5" y="626.5" width="132.2" height="430.0" fill="url(#g7)" fill-opacity="1.0"/><polygon points="496.8,884.5 608.0,884.5 588.1,949.0 572.3,996.3 540.5,996.3 524.6,949.0" fill="#ecec00" filter="url(#b8)"/><rect x="711.2" y="626.5" width="69.1" height="430.0" fill="url(#g8)" fill-opacity="1.0"/><rect x="818.5" y="626.5" width="61.2" height="430.0" fill="url(#g9)" fill-opacity="1.0"/><rect x="920.1" y="626.5" width="166.8" height="430.0" fill="url(#g10)" fill-opacity="1.0"/><polyline points="490.5,842.8 507.1,837.2 524.6,834.6 540.5,834.6 552.4,839.4 567.5,842.8 576.2,837.2 595.3,823.9 608.0,828.6 623.1,830.8" fill="none" stroke="#f06800" stroke-width="4" stroke-opacity="1" stroke-linejoin="round" filter="url(#b1)"/><polyline points="622.1,837.2 648.1,838.6 686.5,849.5 711.2,839.9" fill="none" stroke="#d8e000" stroke-width="3" stroke-opacity="1" stroke-linejoin="round" filter="url(#b1)"/><polyline points="711.2,839.9 738.6,848.2 760.6,842.7 777.0,856.4 782.5,848.2" fill="none" stroke="#f06000" stroke-width="4" stroke-opacity="1" stroke-linejoin="round" filter="url(#b1)"/><polyline points="782.5,848.2 799.0,841.3 818.2,837.2" fill="none" stroke="#d8e000" stroke-width="3" stroke-opacity="1" stroke-linejoin="round" filter="url(#b1)"/><polyline points="818.2,835.8 845.6,845.4 862.0,831.7 879.9,838.6" fill="none" stroke="#f06000" stroke-width="4" stroke-opacity="1" stroke-linejoin="round" filter="url(#b1)"/><polyline points="879.9,838.6 919.6,834.4" fill="none" stroke="#d8e000" stroke-width="3" stroke-opacity="1" stroke-linejoin="round" filter="url(#b1)"/><polyline points="919.6,839.9 927.8,823.5 938.8,839.9 958.0,820.7 974.5,826.2 990.9,815.2 1004.6,818.0 1018.3,823.5 1045.8,826.2 1059.5,818.0 1073.2,812.5 1086.9,818.0" fill="none" stroke="#f07000" stroke-width="4" stroke-opacity="1" stroke-linejoin="round" filter="url(#b1)"/><rect x="131.5" y="841.5" width="10.8" height="25.8" fill="#f0a000" fill-opacity="0.7" filter="url(#b2)"/><rect x="175.2" y="841.5" width="11.9" height="25.8" fill="#f0a000" fill-opacity="0.7" filter="url(#b2)"/><rect x="342.0" y="824.3" width="18.3" height="43.0" fill="#f08000" fill-opacity="0.6" filter="url(#b3)"/><rect x="1036.9" y="789.9" width="47.6" height="34.4" fill="#f0a000" fill-opacity="0.3" filter="url(#b4)"/><polygon points="1084.5,725.4 1124.2,746.9 1163.9,781.3 1211.6,802.8 1243.3,815.7 1283.0,820.0 1322.8,820.0 1346.6,807.1 1362.5,785.6 1386.3,781.3 1406.1,798.5 1411.7,832.9 1411.7,850.1 1406.1,893.1 1386.3,910.3 1362.5,910.3 1346.6,884.5 1322.8,871.6 1283.0,871.6 1243.3,867.3 1211.6,867.3 1163.9,871.6 1124.2,875.9 1084.5,875.9" fill="#3c9400" fill-opacity="1" filter="url(#b6)"/><polygon points="1432.3,832.9 1441.9,802.8 1481.6,802.8 1561.0,802.8 1640.4,802.8 1719.8,807.1 1799.2,802.8 1878.7,798.5 1974.0,798.5 1983.5,832.9 2037.5,837.2 2037.5,893.1 1983.5,893.1 1974.0,901.7 1878.7,906.0 1799.2,906.0 1719.8,893.1 1640.4,893.1 1561.0,888.8 1481.6,884.5 1441.9,884.5 1432.3,850.1" fill="#3c9400" fill-opacity="1" filter="url(#b6)"/><polygon points="1084.5,789.9 1140.1,802.8 1203.6,824.3 1283.0,832.9 1350.5,828.6 1362.5,807.1 1394.2,807.1 1406.1,828.6 1406.1,854.4 1394.2,880.2 1362.5,880.2 1350.5,854.4 1283.0,850.1 1203.6,843.6 1140.1,845.8 1084.5,845.8" fill="#88bc00" fill-opacity="1" filter="url(#b5)"/><polygon points="1437.9,837.2 1449.8,824.3 1561.0,826.5 1719.8,824.3 1839.0,824.3 1878.7,824.3 1977.9,824.3 1985.9,841.5 2037.5,841.5 2037.5,871.6 1985.9,871.6 1977.9,875.9 1878.7,875.9 1839.0,871.6 1719.8,867.3 1561.0,863.0 1449.8,863.0 1437.9,845.8" fill="#88bc00" fill-opacity="1" filter="url(#b5)"/><polygon points="1862.8,837.2 1894.5,828.6 1974.0,828.6 1980.3,837.2 1980.3,863.0 1974.0,871.6 1894.5,871.6 1862.8,858.7" fill="#e0e400" fill-opacity="0.85" filter="url(#b5)"/><polygon points="1767.5,1082.3 1791.3,927.5 1862.8,910.3 1974.0,910.3 1974.0,1082.3" fill="#3c9600" filter="url(#b12)"/><polygon points="1839.0,703.9 1974.0,703.9 1974.0,798.5 1839.0,798.5" fill="#2e8c00" fill-opacity="0.45" filter="url(#b12)"/><rect x="1211.6" y="626.5" width="14.3" height="430.0" fill="url(#g11)" fill-opacity="1.0"/><rect x="1243.3" y="626.5" width="6.4" height="430.0" fill="url(#g12)" fill-opacity="1.0"/><rect x="1269.5" y="626.5" width="5.6" height="430.0" fill="url(#g13)" fill-opacity="1.0"/><rect x="1673.8" y="626.5" width="2.4" height="430.0" fill="url(#g14)" fill-opacity="1.0"/><rect x="1686.5" y="626.5" width="3.2" height="430.0" fill="url(#g15)" fill-opacity="1.0"/><rect x="1981.1" y="626.5" width="2.4" height="430.0" fill="url(#g16)" fill-opacity="1.0"/><rect x="2020.0" y="626.5" width="3.2" height="430.0" fill="url(#g17)" fill-opacity="1.0"/><polyline points="1227.5,841.5 2037.5,841.5" fill="none" stroke="#c8d800" stroke-width="1.5" stroke-opacity="0.8" stroke-linejoin="round"/>
<rect x="130.4" y="626.5" width="1908.0" height="430.0" filter="url(#grain1)" style="mix-blend-mode:overlay" opacity="0.7"/>
<path d="M131.50 626.5V1056.5M369.75 626.5V1056.5M608.00 626.5V1056.5M846.25 626.5V1056.5M1084.50 626.5V1056.5M1322.75 626.5V1056.5M1561.00 626.5V1056.5M1799.25 626.5V1056.5M2037.50 626.5V1056.5M130.4 1013.50H2038.4M130.4 927.50H2038.4M130.4 841.50H2038.4M130.4 755.50H2038.4M130.4 669.50H2038.4" stroke="#c8c8c8" stroke-opacity="0.85" stroke-width="1.11" stroke-dasharray="1.11 1.83" fill="none"/>
<path d="M130.4 626.50H2038.4" stroke="#fff" stroke-opacity="0.75" stroke-width="5.56" stroke-dasharray="5.56 9.17" fill="none"/>
<polyline points="131.50,1016.12 134.15,1018.02 136.79,1019.91 139.44,1021.79 142.09,1023.68 144.74,1025.56 147.38,1027.43 150.03,1029.31 152.68,1031.18 155.32,1033.04 157.97,1034.90 160.62,1036.76 163.27,1038.62 165.91,1040.47 168.56,1042.32 171.21,1044.16 173.86,1046.00 176.50,1047.84 179.15,1049.67 181.80,1051.50 184.44,1053.32 187.09,1055.14 189.74,1056.96 192.39,1058.77 195.03,1060.58 197.68,1062.38 200.33,1064.18 202.98,1065.97 205.62,1067.76 208.27,1069.54 210.92,1071.32 213.56,1073.10 216.21,1074.87 218.86,1076.63 221.51,1078.39 224.15,1080.15 226.80,1081.90 229.45,1083.64 232.09,1085.38 234.74,1087.12 237.39,1088.84 240.04,1090.57 242.68,1092.29 245.33,1094.00 247.98,1095.70 250.62,1097.40 253.27,1099.10 255.92,1100.79 258.57,1102.47 261.21,1104.15 263.86,1105.82 266.51,1107.48 269.16,1109.14 271.80,1110.79 274.45,1112.44 277.10,1114.07 279.74,1115.71 282.39,1117.33 285.04,1118.95 287.69,1120.56 290.33,1122.16 292.98,1123.76 295.63,1125.35 298.27,1126.93 300.92,1128.50 303.57,1130.07 306.22,1131.63 308.86,1133.18 311.51,1134.72 314.16,1136.26 316.81,1137.79 319.45,1139.31 322.10,1140.82 324.75,1142.32 327.39,1143.81 330.04,1145.30 332.69,1146.77 335.34,1148.24 337.98,1149.70 340.63,1151.14 343.28,1152.58 345.93,1154.01 348.57,1155.43 351.22,1156.85 353.87,1158.25 356.51,1159.64 359.16,1161.02 361.81,1162.39 364.46,1163.75 367.10,1165.10 369.75,1166.44 372.40,1167.77 375.04,1169.09 377.69,1170.39 380.34,1171.69 382.99,1172.97 385.63,1174.25 388.28,1175.51 390.93,1176.76 393.57,1177.99 396.22,1179.22 398.87,1180.43 401.52,1181.64 404.16,1182.82 406.81,1184.00 409.46,1185.16 412.11,1186.32 414.75,1187.45 417.40,1188.58 420.05,1189.69 422.69,1190.79 425.34,1191.87 427.99,1192.94 430.64,1194.00 433.28,1195.04 435.93,1196.07 438.58,1197.08 441.23,1198.08 443.87,1199.06 446.52,1200.03 449.17,1200.99 451.81,1201.93 454.46,1202.85 457.11,1203.76 459.76,1204.65 462.40,1205.53 465.05,1206.39 467.70,1207.24 470.34,1208.06 472.99,1208.88 475.64,1209.67 478.29,1210.45 480.93,1211.21 483.58,1211.96 486.23,1212.69 488.88,1213.40 491.52,1214.09 494.17,1214.77 496.82,1215.43 499.46,1216.07 502.11,1216.69 504.76,1217.30 507.41,1217.88 510.05,1218.45 512.70,1219.00 515.35,1219.53 517.99,1220.05 520.64,1220.54 523.29,1221.02 525.94,1221.47 528.58,1221.91 531.23,1222.33 533.88,1222.73 536.52,1223.11 539.17,1223.47 541.82,1223.81 544.47,1224.13 547.11,1224.43 549.76,1224.72 552.41,1224.98 555.06,1225.22 557.70,1225.45 560.35,1225.65 563.00,1225.83 565.64,1225.99 568.29,1226.14 570.94,1226.26 573.59,1226.36 576.23,1226.45 578.88,1226.51 581.53,1226.55 584.18,1226.57 586.82,1226.58 589.47,1226.56 592.12,1226.52 594.76,1226.46 597.41,1226.38 600.06,1226.29 602.71,1226.17 605.35,1226.03 608.00,1225.87 610.65,1225.69 613.29,1225.49 615.94,1225.27 618.59,1225.04 621.24,1224.78 623.88,1224.50 626.53,1224.20 629.18,1223.89 631.83,1223.55 634.47,1223.19 637.12,1222.82 639.77,1222.42 642.41,1222.01 645.06,1221.57 647.71,1221.12 650.36,1220.65 653.00,1220.16 655.65,1219.65 658.30,1219.12 660.94,1218.58 663.59,1218.01 666.24,1217.43 668.89,1216.83 671.53,1216.21 674.18,1215.58 676.83,1214.92 679.48,1214.25 682.12,1213.56 684.77,1212.85 687.42,1212.13 690.06,1211.39 692.71,1210.63 695.36,1209.85 698.01,1209.06 700.65,1208.25 703.30,1207.43 705.95,1206.59 708.59,1205.73 711.24,1204.85 713.89,1203.97 716.54,1203.06 719.18,1202.14 721.83,1201.20 724.48,1200.25 727.12,1199.29 729.77,1198.31 732.42,1197.31 735.07,1196.30 737.71,1195.28 740.36,1194.24 743.01,1193.18 745.66,1192.12 748.30,1191.04 750.95,1189.94 753.60,1188.83 756.24,1187.71 758.89,1186.58 761.54,1185.43 764.19,1184.27 766.83,1183.09 769.48,1181.91 772.13,1180.71 774.77,1179.50 777.42,1178.28 780.07,1177.04 782.72,1175.79 785.36,1174.53 788.01,1173.26 790.66,1171.98 793.31,1170.69 795.95,1169.39 798.60,1168.07 801.25,1166.74 803.89,1165.41 806.54,1164.06 809.19,1162.70 811.84,1161.33 814.48,1159.95 817.13,1158.57 819.78,1157.17 822.42,1155.76 825.07,1154.34 827.72,1152.91 830.37,1151.48 833.01,1150.03 835.66,1148.57 838.31,1147.11 840.96,1145.63 843.60,1144.15 846.25,1142.66 848.90,1141.16 851.54,1139.65 854.19,1138.13 856.84,1136.61 859.49,1135.08 862.13,1133.54 864.78,1131.99 867.43,1130.43 870.08,1128.86 872.72,1127.29 875.37,1125.71 878.02,1124.12 880.66,1122.53 883.31,1120.93 885.96,1119.32 888.61,1117.70 891.25,1116.08 893.90,1114.45 896.55,1112.81 899.19,1111.17 901.84,1109.52 904.49,1107.86 907.14,1106.20 909.78,1104.53 912.43,1102.86 915.08,1101.17 917.73,1099.49 920.37,1097.79 923.02,1096.09 925.67,1094.39 928.31,1092.68 930.96,1090.96 933.61,1089.24 936.26,1087.51 938.90,1085.78 941.55,1084.04 944.20,1082.30 946.84,1080.55 949.49,1078.80 952.14,1077.04 954.79,1075.27 957.43,1073.50 960.08,1071.73 962.73,1069.95 965.38,1068.17 968.02,1066.38 970.67,1064.59 973.32,1062.79 975.96,1060.99 978.61,1059.18 981.26,1057.37 983.91,1055.56 986.55,1053.74 989.20,1051.92 991.85,1050.09 994.49,1048.26 997.14,1046.42 999.79,1044.58 1002.44,1042.74 1005.08,1040.89 1007.73,1039.04 1010.38,1037.19 1013.02,1035.33 1015.67,1033.47 1018.32,1031.60 1020.97,1029.74 1023.61,1027.86 1026.26,1025.99 1028.91,1024.11 1031.56,1022.23 1034.20,1020.34 1036.85,1018.45 1039.50,1016.56 1042.14,1014.66 1044.79,1012.76 1047.44,1010.86 1050.09,1008.96 1052.73,1007.05 1055.38,1005.14 1058.03,1003.22 1060.67,1001.31 1063.32,999.39 1065.97,997.47 1068.62,995.54 1071.26,993.61 1073.91,991.68 1076.56,989.75 1079.21,987.81 1081.85,985.88 1084.50,983.94 1087.15,981.99 1089.79,980.05 1092.44,978.10 1095.09,976.15 1097.74,974.20 1100.38,972.24 1103.03,970.28 1105.68,968.32 1108.33,966.36 1110.97,964.40 1113.62,962.43 1116.27,960.46 1118.91,958.49 1121.56,956.52 1124.21,954.54 1126.86,952.57 1129.50,950.59 1132.15,948.61 1134.80,946.62 1137.44,944.64 1140.09,942.65 1142.74,940.67 1145.39,938.68 1148.03,936.68 1150.68,934.69 1153.33,932.70 1155.98,930.70 1158.62,928.70 1161.27,926.70 1163.92,924.70 1166.56,922.69 1169.21,920.69 1171.86,918.68 1174.51,916.68 1177.15,914.67 1179.80,912.65 1182.45,910.64 1185.09,908.63 1187.74,906.61 1190.39,904.60 1193.04,902.58 1195.68,900.56 1198.33,898.54 1200.98,896.52 1203.62,894.50 1206.27,892.47 1208.92,890.45 1211.57,888.42 1214.21,886.39 1216.86,884.37 1219.51,882.34 1222.16,880.31 1224.80,878.27 1227.45,876.24 1230.10,874.21 1232.74,872.17 1235.39,870.14 1238.04,868.10 1240.69,866.07 1243.33,864.03 1245.98,861.99 1248.63,859.95 1251.28,857.91 1253.92,855.87 1256.57,853.83 1259.22,851.79 1261.86,849.74 1264.51,847.70 1267.16,845.66 1269.81,843.61 1272.45,841.57 1275.10,839.52 1277.75,837.48 1280.39,835.43 1283.04,833.39 1285.69,831.34 1288.34,829.29 1290.98,827.24 1293.63,825.20 1296.28,823.15 1298.92,821.10 1301.57,819.05 1304.22,817.00 1306.87,814.96 1309.51,812.91 1312.16,810.86 1314.81,808.81 1317.46,806.76 1320.10,804.71 1322.75,802.67 1325.40,800.62 1328.04,798.57 1330.69,796.53 1333.34,794.48 1335.99,792.43 1338.63,790.39 1341.28,788.34 1343.93,786.30 1346.58,784.26 1349.22,782.21 1351.87,780.17 1354.52,778.13 1357.16,776.09 1359.81,774.05 1362.46,772.01 1365.11,769.98 1367.75,767.94 1370.40,765.91 1373.05,763.88 1375.69,761.85 1378.34,759.82 1380.99,757.79 1383.64,755.77 1386.28,753.74 1388.93,751.72 1391.58,749.70 1394.23,747.69 1396.87,745.68 1399.52,743.67 1402.17,741.66 1404.81,739.66 1407.46,737.66 1410.11,735.66 1412.76,733.67 1415.40,731.68 1418.05,729.70 1420.70,727.72 1423.34,725.75 1425.99,723.78 1428.64,721.82 1431.29,719.86 1433.93,717.91 1436.58,715.97 1439.23,714.04 1441.88,712.11 1444.52,710.19 1447.17,708.29 1449.82,706.39 1452.46,704.50 1455.11,702.63 1457.76,700.77 1460.41,698.92 1463.05,697.09 1465.70,695.27 1468.35,693.48 1470.99,691.70 1473.64,689.94 1476.29,688.20 1478.94,686.49 1481.58,684.80 1484.23,683.15 1486.88,681.52 1489.53,679.93 1492.17,678.38 1494.82,676.87 1497.47,675.41 1500.11,673.99 1502.76,672.63 1505.41,671.32 1508.06,670.08 1510.70,668.92 1513.35,667.82 1516.00,666.81 1518.64,665.89 1521.29,665.06 1523.94,664.33 1526.59,663.71 1529.23,663.20 1531.88,662.81 1534.53,662.54 1537.17,662.39 1539.82,662.37 1542.47,662.48 1545.12,662.70 1547.76,663.05 1550.41,663.52 1553.06,664.10 1555.71,664.79 1558.35,665.59 1561.00,666.48 1563.65,667.46 1566.29,668.53 1568.94,669.67 1571.59,670.89 1574.24,672.17 1576.88,673.51 1579.53,674.91 1582.18,676.36 1584.83,677.85 1587.47,679.39 1590.12,680.97 1592.77,682.58 1595.41,684.23 1598.06,685.90 1600.71,687.60 1603.36,689.33 1606.00,691.08 1608.65,692.86 1611.30,694.65 1613.94,696.46 1616.59,698.29 1619.24,700.13 1621.89,701.98 1624.53,703.85 1627.18,705.73 1629.83,707.63 1632.47,709.53 1635.12,711.44 1637.77,713.37 1640.42,715.30 1643.06,717.24 1645.71,719.18 1648.36,721.14 1651.01,723.10 1653.65,725.06 1656.30,727.03 1658.95,729.01 1661.59,730.99 1664.24,732.98 1666.89,734.97 1669.54,736.96 1672.18,738.96 1674.83,740.96 1677.48,742.97 1680.12,744.98 1682.77,746.99 1685.42,749.00 1688.07,751.02 1690.71,753.04 1693.36,755.06 1696.01,757.09 1698.66,759.11 1701.30,761.14 1703.95,763.17 1706.60,765.20 1709.24,767.24 1711.89,769.27 1714.54,771.31 1717.19,773.34 1719.83,775.38 1722.48,777.42 1725.13,779.46 1727.78,781.50 1730.42,783.55 1733.07,785.59 1735.72,787.63 1738.36,789.68 1741.01,791.72 1743.66,793.77 1746.31,795.81 1748.95,797.86 1751.60,799.91 1754.25,801.96 1756.89,804.00 1759.54,806.05 1762.19,808.10 1764.84,810.15 1767.48,812.20 1770.13,814.24 1772.78,816.29 1775.42,818.34 1778.07,820.39 1780.72,822.44 1783.37,824.48 1786.01,826.53 1788.66,828.58 1791.31,830.63 1793.96,832.67 1796.60,834.72 1799.25,836.77 1801.90,838.81 1804.54,840.86 1807.19,842.90 1809.84,844.95 1812.49,846.99 1815.13,849.03 1817.78,851.08 1820.43,853.12 1823.08,855.16 1825.72,857.20 1828.37,859.24 1831.02,861.28 1833.66,863.32 1836.31,865.36 1838.96,867.39 1841.61,869.43 1844.25,871.47 1846.90,873.50 1849.55,875.53 1852.19,877.57 1854.84,879.60 1857.49,881.63 1860.14,883.66 1862.78,885.69 1865.43,887.72 1868.08,889.74 1870.72,891.77 1873.37,893.79 1876.02,895.81 1878.67,897.84 1881.31,899.86 1883.96,901.88 1886.61,903.89 1889.26,905.91 1891.90,907.93 1894.55,909.94 1897.20,911.95 1899.84,913.96 1902.49,915.97 1905.14,917.98 1907.79,919.99 1910.43,921.99 1913.08,924.00 1915.73,926.00 1918.38,928.00 1921.02,930.00 1923.67,932.00 1926.32,933.99 1928.96,935.99 1931.61,937.98 1934.26,939.97 1936.91,941.96 1939.55,943.95 1942.20,945.93 1944.85,947.91 1947.49,949.90 1950.14,951.87 1952.79,953.85 1955.44,955.83 1958.08,957.80 1960.73,959.77 1963.38,961.74 1966.03,963.71 1968.67,965.67 1971.32,967.64 1973.97,969.60 1976.61,971.55 1979.26,973.51 1981.91,975.46 1984.56,977.42 1987.20,979.36 1989.85,981.31 1992.50,983.25 1995.14,985.20 1997.79,987.14 2000.44,989.07 2003.09,991.01 2005.73,992.94 2008.38,994.87 2011.03,996.79 2013.67,998.71 2016.32,1000.63 2018.97,1002.55 2021.62,1004.47 2024.26,1006.38 2026.91,1008.29 2029.56,1010.19 2032.21,1012.10 2034.85,1014.00 2037.50,1015.89" stroke="#fff" stroke-opacity="0.75" stroke-width="5.56" stroke-dasharray="35.6 8.9 5.56 8.9" fill="none" stroke-dashoffset="3.4"/>
</g>
<rect x="130.4" y="626.5" width="1908.0" height="430.0" fill="none" stroke="#000" stroke-width="1.3"/>
<text x="77.48" y="1023.90" font-size="30" textLength="41.72" lengthAdjust="spacingAndGlyphs" fill="#000" stroke="#000" stroke-width="0.9">−4</text>
<text x="77.43" y="937.90" font-size="30" textLength="43.08" lengthAdjust="spacingAndGlyphs" fill="#000" stroke="#000" stroke-width="0.9">−2</text>
<text x="99.50" y="851.90" font-size="30" textLength="21.05" lengthAdjust="spacingAndGlyphs" fill="#000" stroke="#000" stroke-width="0.9">0</text>
<text x="99.70" y="765.90" font-size="30" textLength="20.79" lengthAdjust="spacingAndGlyphs" fill="#000" stroke="#000" stroke-width="0.9">2</text>
<text x="100.49" y="679.90" font-size="30" textLength="18.69" lengthAdjust="spacingAndGlyphs" fill="#000" stroke="#000" stroke-width="0.9">4</text>
<text x="2048.20" y="1066.80" font-size="30" textLength="21.05" lengthAdjust="spacingAndGlyphs" fill="#000" stroke="#000" stroke-width="0.9">0</text>
<text x="2048.49" y="971.24" font-size="30" textLength="38.74" lengthAdjust="spacingAndGlyphs" fill="#000" stroke="#000" stroke-width="0.9">20</text>
<text x="2049.18" y="875.69" font-size="30" textLength="38.02" lengthAdjust="spacingAndGlyphs" fill="#000" stroke="#000" stroke-width="0.9">40</text>
<text x="2048.42" y="780.13" font-size="30" textLength="38.81" lengthAdjust="spacingAndGlyphs" fill="#000" stroke="#000" stroke-width="0.9">60</text>
<text x="2048.60" y="684.58" font-size="30" textLength="38.63" lengthAdjust="spacingAndGlyphs" fill="#000" stroke="#000" stroke-width="0.9">80</text>
<text x="2162.77" y="636.80" font-size="30" textLength="50.32" lengthAdjust="spacingAndGlyphs" fill="#000" stroke="#000" stroke-width="0.9">0.0</text>
<text x="2162.77" y="722.80" font-size="30" textLength="50.28" lengthAdjust="spacingAndGlyphs" fill="#000" stroke="#000" stroke-width="0.9">0.2</text>
<text x="2162.81" y="808.80" font-size="30" textLength="48.98" lengthAdjust="spacingAndGlyphs" fill="#000" stroke="#000" stroke-width="0.9">0.4</text>
<text x="2162.77" y="894.80" font-size="30" textLength="50.13" lengthAdjust="spacingAndGlyphs" fill="#000" stroke="#000" stroke-width="0.9">0.6</text>
<text x="2162.78" y="980.80" font-size="30" textLength="49.93" lengthAdjust="spacingAndGlyphs" fill="#000" stroke="#000" stroke-width="0.9">0.8</text>
<text x="2161.88" y="1066.80" font-size="30" textLength="51.23" lengthAdjust="spacingAndGlyphs" fill="#000" stroke="#000" stroke-width="0.9">1.0</text>
<text x="2326.28" y="636.80" font-size="30" textLength="58.76" lengthAdjust="spacingAndGlyphs" fill="#000" stroke="#000" stroke-width="0.9">100</text>
<text x="2327.43" y="749.96" font-size="30" textLength="38.70" lengthAdjust="spacingAndGlyphs" fill="#000" stroke="#000" stroke-width="0.9">50</text>
<text x="2327.00" y="863.12" font-size="30" textLength="21.05" lengthAdjust="spacingAndGlyphs" fill="#000" stroke="#000" stroke-width="0.9">0</text>
<text x="2326.94" y="976.27" font-size="30" textLength="63.59" lengthAdjust="spacingAndGlyphs" fill="#000" stroke="#000" stroke-width="0.9">−50</text>
<path d="M124.9 1013.50H130.4M124.9 927.50H130.4M124.9 841.50H130.4M124.9 755.50H130.4M124.9 669.50H130.4M2038.4 1056.50h5.5M2038.4 960.94h5.5M2038.4 865.39h5.5M2038.4 769.83h5.5M2038.4 674.28h5.5M2152.6 626.5V1056.5M2152.6 626.50h5.5M2152.6 712.50h5.5M2152.6 798.50h5.5M2152.6 884.50h5.5M2152.6 970.50h5.5M2152.6 1056.50h5.5M2314.4 1056.50h3.5M2314.4 1033.87h3.5M2314.4 1011.24h3.5M2314.4 988.61h3.5M2314.4 965.97h5.5M2314.4 943.34h3.5M2314.4 920.71h3.5M2314.4 898.08h3.5M2314.4 875.45h3.5M2314.4 852.82h5.5M2314.4 830.18h3.5M2314.4 807.55h3.5M2314.4 784.92h3.5M2314.4 762.29h3.5M2314.4 739.66h5.5M2314.4 717.03h3.5M2314.4 694.39h3.5M2314.4 671.76h3.5M2314.4 649.13h3.5M2314.4 626.50h5.5" stroke="#000" stroke-width="1.2" fill="none"/>
<rect x="2292.5" y="626.5" width="21.90000000000009" height="430.0" fill="url(#cbg)" stroke="#000" stroke-width="1.2"/>
<text transform="translate(33.10,922.00) rotate(-90)" x="-2.20" y="0" font-size="30" textLength="159.06" lengthAdjust="spacingAndGlyphs" fill="#000" stroke="#000" stroke-width="0.9">10.00MHz</text>
<text transform="translate(62.70,986.30) rotate(-90)" x="-2.32" y="0" font-size="30" textLength="292.64" lengthAdjust="spacingAndGlyphs" fill="#000" stroke="#000" stroke-width="0.9">Doppler Shift (Hz)</text>
<text transform="translate(2114.10,1013.70) rotate(-90)" x="-0.97" y="0" font-size="30" textLength="346.83" lengthAdjust="spacingAndGlyphs" fill="#000" stroke="#000" stroke-width="0.9">Solar Elevation Angle</text>
<text transform="translate(2240.00,1000.00) rotate(-90)" x="-2.22" y="0" font-size="30" textLength="321.28" lengthAdjust="spacingAndGlyphs" fill="#000" stroke="#000" stroke-width="0.9">Eclipse Obscuration</text>
<text transform="translate(2415.70,911.80) rotate(-90)" x="-2.21" y="0" font-size="30" textLength="143.26" lengthAdjust="spacingAndGlyphs" fill="#000" stroke="#000" stroke-width="0.9">PSD (dB)</text>
<clipPath id="cp2"><rect x="130.4" y="1102.5" width="1908.0" height="430.0"/></clipPath>
<g clip-path="url(#cp2)">
<rect x="130.4" y="1102.5" width="1908.0" height="430.0" fill="#349800"/><rect x="175.2" y="1102.5" width="10.3" height="430.0" fill="#1e8a00" fill-opacity="0.45"/><rect x="199.8" y="1102.5" width="7.1" height="430.0" fill="#1e8a00" fill-opacity="0.45"/><rect x="226.8" y="1102.5" width="12.7" height="430.0" fill="#1e8a00" fill-opacity="0.45"/><rect x="338.0" y="1102.5" width="27.8" height="430.0" fill="#1e8a00" fill-opacity="0.45"/><rect x="488.9" y="1102.5" width="23.8" height="430.0" fill="#1e8a00" fill-opacity="0.45"/><rect x="731.1" y="1102.5" width="15.9" height="430.0" fill="#1e8a00" fill-opacity="0.45"/><rect x="766.8" y="1102.5" width="23.8" height="430.0" fill="#1e8a00" fill-opacity="0.45"/><rect x="1215.5" y="1102.5" width="11.9" height="430.0" fill="#1e8a00" fill-opacity="0.45"/><rect x="1247.3" y="1102.5" width="7.9" height="430.0" fill="#1e8a00" fill-opacity="0.45"/><rect x="1271.1" y="1102.5" width="7.9" height="430.0" fill="#1e8a00" fill-opacity="0.45"/><rect x="1338.6" y="1102.5" width="19.9" height="430.0" fill="#1e8a00" fill-opacity="0.45"/><rect x="1398.2" y="1102.5" width="7.9" height="430.0" fill="#1e8a00" fill-opacity="0.45"/><rect x="1449.8" y="1102.5" width="11.9" height="430.0" fill="#1e8a00" fill-opacity="0.45"/><rect x="1505.4" y="1102.5" width="7.9" height="430.0" fill="#1e8a00" fill-opacity="0.45"/><rect x="147.4" y="1102.5" width="15.9" height="430.0" fill="#5aaa00" fill-opacity="0.35"/><rect x="250.6" y="1102.5" width="23.8" height="430.0" fill="#5aaa00" fill-opacity="0.35"/><rect x="393.6" y="1102.5" width="23.8" height="430.0" fill="#5aaa00" fill-opacity="0.35"/><rect x="544.5" y="1102.5" width="31.8" height="430.0" fill="#5aaa00" fill-opacity="0.35"/><rect x="1092.4" y="1102.5" width="23.8" height="430.0" fill="#5aaa00" fill-opacity="0.35"/><rect x="1298.9" y="1102.5" width="23.8" height="430.0" fill="#5aaa00" fill-opacity="0.35"/><rect x="1950.1" y="1102.5" width="87.4" height="430.0" fill="#5aaa00" fill-opacity="0.35"/><polygon points="203.0,1326.1 226.8,1321.8 258.6,1317.5 290.3,1313.2 330.0,1304.6 369.8,1296.0 409.5,1300.3 433.3,1304.6 457.1,1304.6 488.9,1300.3 528.6,1300.3 568.3,1283.1 600.1,1253.0 631.8,1283.1 671.5,1296.0 711.2,1300.3 743.0,1304.6 766.8,1300.3 798.6,1296.0 830.4,1265.9 862.1,1274.5 893.9,1265.9 925.7,1248.7 953.5,1210.0 965.4,1149.8 977.3,1205.7 1005.1,1218.6 1036.9,1240.1 1052.7,1265.9 1052.7,1283.1 1036.9,1291.7 1005.1,1304.6 977.3,1317.5 965.4,1321.8 953.5,1326.1 925.7,1330.4 893.9,1334.7 862.1,1339.0 830.4,1347.6 798.6,1360.5 766.8,1386.3 743.0,1416.4 711.2,1369.1 671.5,1360.5 631.8,1356.2 600.1,1351.9 568.3,1356.2 528.6,1364.8 488.9,1373.4 457.1,1382.0 433.3,1416.4 409.5,1386.3 369.8,1373.4 330.0,1377.7 290.3,1386.3 258.6,1382.0 226.8,1373.4 203.0,1343.3" fill="#6cb000" fill-opacity="1" filter="url(#b5)"/><polygon points="274.5,1315.3 330.0,1311.0 369.8,1306.8 449.2,1306.8 528.6,1304.6 608.0,1300.3 687.4,1304.6 751.0,1308.9 790.7,1302.5 846.2,1298.2 925.7,1296.0 965.4,1293.8 977.3,1308.9 977.3,1317.5 965.4,1317.5 925.7,1317.5 846.2,1321.8 790.7,1330.4 751.0,1343.3 687.4,1332.5 608.0,1332.5 528.6,1332.5 449.2,1334.7 369.8,1332.5 330.0,1330.4 274.5,1328.2" fill="#d8de00" fill-opacity="1" filter="url(#b3)"/><polygon points="973.3,1304.6 989.2,1265.9 1005.1,1240.1 1028.9,1244.4 1036.9,1265.9 1013.0,1283.1 989.2,1304.6" fill="#b8d400" filter="url(#b4)"/><polyline points="131.5,1317.5 274.5,1317.5" fill="none" stroke="#b8d800" stroke-width="1.5" stroke-opacity="0.8" stroke-linejoin="round"/><polyline points="131.5,1337.3 230.8,1337.3" fill="none" stroke="#b8d800" stroke-width="1.2" stroke-opacity="0.8" stroke-linejoin="round"/><polyline points="973.3,1317.5 2037.5,1317.5" fill="none" stroke="#90c800" stroke-width="1.2" stroke-opacity="0.7" stroke-linejoin="round"/><polyline points="941.5,1329.5 1084.5,1329.5 1211.6,1331.7 1322.8,1333.8 2037.5,1333.8" fill="none" stroke="#b8d800" stroke-width="1.2" stroke-opacity="0.8" stroke-linejoin="round"/>
<rect x="130.4" y="1102.5" width="1908.0" height="430.0" filter="url(#grain2)" style="mix-blend-mode:overlay" opacity="1.0"/>
<path d="M131.50 1102.5V1532.5M369.75 1102.5V1532.5M608.00 1102.5V1532.5M846.25 1102.5V1532.5M1084.50 1102.5V1532.5M1322.75 1102.5V1532.5M1561.00 1102.5V1532.5M1799.25 1102.5V1532.5M2037.50 1102.5V1532.5M130.4 1489.50H2038.4M130.4 1403.50H2038.4M130.4 1317.50H2038.4M130.4 1231.50H2038.4M130.4 1145.50H2038.4" stroke="#c8c8c8" stroke-opacity="0.85" stroke-width="1.11" stroke-dasharray="1.11 1.83" fill="none"/>
<path d="M130.4 1102.50H2038.4" stroke="#fff" stroke-opacity="0.75" stroke-width="5.56" stroke-dasharray="5.56 9.17" fill="none"/>
<polyline points="131.50,1492.12 134.15,1494.02 136.79,1495.91 139.44,1497.79 142.09,1499.68 144.74,1501.56 147.38,1503.43 150.03,1505.31 152.68,1507.18 155.32,1509.04 157.97,1510.90 160.62,1512.76 163.27,1514.62 165.91,1516.47 168.56,1518.32 171.21,1520.16 173.86,1522.00 176.50,1523.84 179.15,1525.67 181.80,1527.50 184.44,1529.32 187.09,1531.14 189.74,1532.96 192.39,1534.77 195.03,1536.58 197.68,1538.38 200.33,1540.18 202.98,1541.97 205.62,1543.76 208.27,1545.54 210.92,1547.32 213.56,1549.10 216.21,1550.87 218.86,1552.63 221.51,1554.39 224.15,1556.15 226.80,1557.90 229.45,1559.64 232.09,1561.38 234.74,1563.12 237.39,1564.84 240.04,1566.57 242.68,1568.29 245.33,1570.00 247.98,1571.70 250.62,1573.40 253.27,1575.10 255.92,1576.79 258.57,1578.47 261.21,1580.15 263.86,1581.82 266.51,1583.48 269.16,1585.14 271.80,1586.79 274.45,1588.44 277.10,1590.07 279.74,1591.71 282.39,1593.33 285.04,1594.95 287.69,1596.56 290.33,1598.16 292.98,1599.76 295.63,1601.35 298.27,1602.93 300.92,1604.50 303.57,1606.07 306.22,1607.63 308.86,1609.18 311.51,1610.72 314.16,1612.26 316.81,1613.79 319.45,1615.31 322.10,1616.82 324.75,1618.32 327.39,1619.81 330.04,1621.30 332.69,1622.77 335.34,1624.24 337.98,1625.70 340.63,1627.14 343.28,1628.58 345.93,1630.01 348.57,1631.43 351.22,1632.85 353.87,1634.25 356.51,1635.64 359.16,1637.02 361.81,1638.39 364.46,1639.75 367.10,1641.10 369.75,1642.44" stroke="#fff" stroke-opacity="0.75" stroke-width="5.56" stroke-dasharray="35.6 8.9 5.56 8.9" fill="none" stroke-dashoffset="3.4"/>
<polyline points="369.75,1642.44 372.40,1643.77 375.04,1645.09 377.69,1646.39 380.34,1647.69 382.99,1648.97 385.63,1650.25 388.28,1651.51 390.93,1652.76 393.57,1653.99 396.22,1655.22 398.87,1656.43 401.52,1657.64 404.16,1658.82 406.81,1660.00 409.46,1661.16 412.11,1662.32 414.75,1663.45 417.40,1664.58 420.05,1665.69 422.69,1666.79 425.34,1667.87 427.99,1668.94 430.64,1670.00 433.28,1671.04 435.93,1672.07 438.58,1673.08 441.23,1674.08 443.87,1675.06 446.52,1676.03 449.17,1676.99 451.81,1677.93 454.46,1678.85 457.11,1679.76 459.76,1680.65 462.40,1681.53 465.05,1682.39 467.70,1683.24 470.34,1684.06 472.99,1684.88 475.64,1685.67 478.29,1686.45 480.93,1687.21 483.58,1687.96 486.23,1688.69 488.88,1689.40 491.52,1690.09 494.17,1690.77 496.82,1691.43 499.46,1692.07 502.11,1692.69 504.76,1693.30 507.41,1693.88 510.05,1694.45 512.70,1695.00 515.35,1695.53 517.99,1696.05 520.64,1696.54 523.29,1697.02 525.94,1697.47 528.58,1697.91 531.23,1698.33 533.88,1698.73 536.52,1699.11 539.17,1699.47 541.82,1699.81 544.47,1700.13 547.11,1700.43 549.76,1700.72 552.41,1700.98 555.06,1701.22 557.70,1701.45 560.35,1701.65 563.00,1701.83 565.64,1701.99 568.29,1702.14 570.94,1702.26 573.59,1702.36 576.23,1702.45 578.88,1702.51 581.53,1702.55 584.18,1702.57 586.82,1702.58 589.47,1702.56 592.12,1702.52 594.76,1702.46 597.41,1702.38 600.06,1702.29 602.71,1702.17 605.35,1702.03 608.00,1701.87 610.65,1701.69 613.29,1701.49 615.94,1701.27 618.59,1701.04 621.24,1700.78 623.88,1700.50 626.53,1700.20 629.18,1699.89 631.83,1699.55 634.47,1699.19 637.12,1698.82 639.77,1698.42 642.41,1698.01 645.06,1697.57 647.71,1697.12 650.36,1696.65 653.00,1696.16 655.65,1695.65 658.30,1695.12 660.94,1694.58 663.59,1694.01 666.24,1693.43 668.89,1692.83 671.53,1692.21 674.18,1691.58 676.83,1690.92 679.48,1690.25 682.12,1689.56 684.77,1688.85 687.42,1688.13 690.06,1687.39 692.71,1686.63 695.36,1685.85 698.01,1685.06 700.65,1684.25 703.30,1683.43 705.95,1682.59 708.59,1681.73 711.24,1680.85 713.89,1679.97 716.54,1679.06 719.18,1678.14 721.83,1677.20 724.48,1676.25 727.12,1675.29 729.77,1674.31 732.42,1673.31 735.07,1672.30 737.71,1671.28 740.36,1670.24 743.01,1669.18 745.66,1668.12 748.30,1667.04 750.95,1665.94 753.60,1664.83 756.24,1663.71 758.89,1662.58 761.54,1661.43 764.19,1660.27 766.83,1659.09 769.48,1657.91 772.13,1656.71 774.77,1655.50 777.42,1654.28 780.07,1653.04 782.72,1651.79 785.36,1650.53 788.01,1649.26 790.66,1647.98 793.31,1646.69 795.95,1645.39 798.60,1644.07 801.25,1642.74 803.89,1641.41 806.54,1640.06 809.19,1638.70 811.84,1637.33 814.48,1635.95 817.13,1634.57 819.78,1633.17 822.42,1631.76 825.07,1630.34 827.72,1628.91 830.37,1627.48 833.01,1626.03 835.66,1624.57 838.31,1623.11 840.96,1621.63 843.60,1620.15 846.25,1618.66 848.90,1617.16 851.54,1615.65 854.19,1614.13 856.84,1612.61 859.49,1611.08 862.13,1609.54 864.78,1607.99 867.43,1606.43 870.08,1604.86 872.72,1603.29 875.37,1601.71 878.02,1600.12 880.66,1598.53 883.31,1596.93 885.96,1595.32 888.61,1593.70 891.25,1592.08 893.90,1590.45 896.55,1588.81 899.19,1587.17 901.84,1585.52 904.49,1583.86 907.14,1582.20 909.78,1580.53 912.43,1578.86 915.08,1577.17 917.73,1575.49 920.37,1573.79 923.02,1572.09 925.67,1570.39 928.31,1568.68 930.96,1566.96 933.61,1565.24 936.26,1563.51 938.90,1561.78 941.55,1560.04 944.20,1558.30 946.84,1556.55 949.49,1554.80 952.14,1553.04 954.79,1551.27 957.43,1549.50 960.08,1547.73 962.73,1545.95 965.38,1544.17 968.02,1542.38 970.67,1540.59 973.32,1538.79 975.96,1536.99 978.61,1535.18 981.26,1533.37 983.91,1531.56 986.55,1529.74 989.20,1527.92 991.85,1526.09 994.49,1524.26 997.14,1522.42 999.79,1520.58 1002.44,1518.74 1005.08,1516.89 1007.73,1515.04 1010.38,1513.19 1013.02,1511.33 1015.67,1509.47 1018.32,1507.60 1020.97,1505.74 1023.61,1503.86 1026.26,1501.99 1028.91,1500.11 1031.56,1498.23 1034.20,1496.34 1036.85,1494.45 1039.50,1492.56 1042.14,1490.66 1044.79,1488.76 1047.44,1486.86 1050.09,1484.96 1052.73,1483.05 1055.38,1481.14 1058.03,1479.22 1060.67,1477.31 1063.32,1475.39 1065.97,1473.47 1068.62,1471.54 1071.26,1469.61 1073.91,1467.68 1076.56,1465.75 1079.21,1463.81 1081.85,1461.88 1084.50,1459.94 1087.15,1457.99 1089.79,1456.05 1092.44,1454.10 1095.09,1452.15 1097.74,1450.20 1100.38,1448.24 1103.03,1446.28 1105.68,1444.32 1108.33,1442.36 1110.97,1440.40 1113.62,1438.43 1116.27,1436.46 1118.91,1434.49 1121.56,1432.52 1124.21,1430.54 1126.86,1428.57 1129.50,1426.59 1132.15,1424.61 1134.80,1422.62 1137.44,1420.64 1140.09,1418.65 1142.74,1416.67 1145.39,1414.68 1148.03,1412.68 1150.68,1410.69 1153.33,1408.70 1155.98,1406.70 1158.62,1404.70 1161.27,1402.70 1163.92,1400.70 1166.56,1398.69 1169.21,1396.69 1171.86,1394.68 1174.51,1392.68 1177.15,1390.67 1179.80,1388.65 1182.45,1386.64 1185.09,1384.63 1187.74,1382.61 1190.39,1380.60 1193.04,1378.58 1195.68,1376.56 1198.33,1374.54 1200.98,1372.52 1203.62,1370.50 1206.27,1368.47 1208.92,1366.45 1211.57,1364.42 1214.21,1362.39 1216.86,1360.37 1219.51,1358.34 1222.16,1356.31 1224.80,1354.27 1227.45,1352.24 1230.10,1350.21 1232.74,1348.17 1235.39,1346.14 1238.04,1344.10 1240.69,1342.07 1243.33,1340.03 1245.98,1337.99 1248.63,1335.95 1251.28,1333.91 1253.92,1331.87 1256.57,1329.83 1259.22,1327.79 1261.86,1325.74 1264.51,1323.70 1267.16,1321.66 1269.81,1319.61 1272.45,1317.57 1275.10,1315.52 1277.75,1313.48 1280.39,1311.43 1283.04,1309.39 1285.69,1307.34 1288.34,1305.29 1290.98,1303.24 1293.63,1301.20 1296.28,1299.15 1298.92,1297.10 1301.57,1295.05 1304.22,1293.00 1306.87,1290.96 1309.51,1288.91 1312.16,1286.86 1314.81,1284.81 1317.46,1282.76 1320.10,1280.71 1322.75,1278.67 1325.40,1276.62 1328.04,1274.57 1330.69,1272.53 1333.34,1270.48 1335.99,1268.43 1338.63,1266.39 1341.28,1264.34 1343.93,1262.30 1346.58,1260.26 1349.22,1258.21 1351.87,1256.17 1354.52,1254.13 1357.16,1252.09 1359.81,1250.05 1362.46,1248.01 1365.11,1245.98 1367.75,1243.94 1370.40,1241.91 1373.05,1239.88 1375.69,1237.85 1378.34,1235.82 1380.99,1233.79 1383.64,1231.77 1386.28,1229.74 1388.93,1227.72 1391.58,1225.70 1394.23,1223.69 1396.87,1221.68 1399.52,1219.67 1402.17,1217.66 1404.81,1215.66 1407.46,1213.66 1410.11,1211.66 1412.76,1209.67 1415.40,1207.68 1418.05,1205.70 1420.70,1203.72 1423.34,1201.75 1425.99,1199.78 1428.64,1197.82 1431.29,1195.86 1433.93,1193.91 1436.58,1191.97 1439.23,1190.04 1441.88,1188.11 1444.52,1186.19 1447.17,1184.29 1449.82,1182.39 1452.46,1180.50 1455.11,1178.63 1457.76,1176.77 1460.41,1174.92 1463.05,1173.09 1465.70,1171.27 1468.35,1169.48 1470.99,1167.70 1473.64,1165.94 1476.29,1164.20 1478.94,1162.49 1481.58,1160.80 1484.23,1159.15 1486.88,1157.52 1489.53,1155.93 1492.17,1154.38 1494.82,1152.87 1497.47,1151.41 1500.11,1149.99 1502.76,1148.63 1505.41,1147.32 1508.06,1146.08 1510.70,1144.92 1513.35,1143.82 1516.00,1142.81 1518.64,1141.89 1521.29,1141.06 1523.94,1140.33 1526.59,1139.71 1529.23,1139.20 1531.88,1138.81 1534.53,1138.54 1537.17,1138.39 1539.82,1138.37 1542.47,1138.48 1545.12,1138.70 1547.76,1139.05 1550.41,1139.52 1553.06,1140.10 1555.71,1140.79 1558.35,1141.59 1561.00,1142.48 1563.65,1143.46 1566.29,1144.53 1568.94,1145.67 1571.59,1146.89 1574.24,1148.17 1576.88,1149.51 1579.53,1150.91 1582.18,1152.36 1584.83,1153.85 1587.47,1155.39 1590.12,1156.97 1592.77,1158.58 1595.41,1160.23 1598.06,1161.90 1600.71,1163.60 1603.36,1165.33 1606.00,1167.08 1608.65,1168.86 1611.30,1170.65 1613.94,1172.46 1616.59,1174.29 1619.24,1176.13 1621.89,1177.98 1624.53,1179.85 1627.18,1181.73 1629.83,1183.63 1632.47,1185.53 1635.12,1187.44 1637.77,1189.37 1640.42,1191.30 1643.06,1193.24 1645.71,1195.18 1648.36,1197.14 1651.01,1199.10 1653.65,1201.06 1656.30,1203.03 1658.95,1205.01 1661.59,1206.99 1664.24,1208.98 1666.89,1210.97 1669.54,1212.96 1672.18,1214.96 1674.83,1216.96 1677.48,1218.97 1680.12,1220.98 1682.77,1222.99 1685.42,1225.00 1688.07,1227.02 1690.71,1229.04 1693.36,1231.06 1696.01,1233.09 1698.66,1235.11 1701.30,1237.14 1703.95,1239.17 1706.60,1241.20 1709.24,1243.24 1711.89,1245.27 1714.54,1247.31 1717.19,1249.34 1719.83,1251.38 1722.48,1253.42 1725.13,1255.46 1727.78,1257.50 1730.42,1259.55 1733.07,1261.59 1735.72,1263.63 1738.36,1265.68 1741.01,1267.72 1743.66,1269.77 1746.31,1271.81 1748.95,1273.86 1751.60,1275.91 1754.25,1277.96 1756.89,1280.00 1759.54,1282.05 1762.19,1284.10 1764.84,1286.15 1767.48,1288.20 1770.13,1290.24 1772.78,1292.29 1775.42,1294.34 1778.07,1296.39 1780.72,1298.44 1783.37,1300.48 1786.01,1302.53 1788.66,1304.58 1791.31,1306.63 1793.96,1308.67 1796.60,1310.72 1799.25,1312.77 1801.90,1314.81 1804.54,1316.86 1807.19,1318.90 1809.84,1320.95 1812.49,1322.99 1815.13,1325.03 1817.78,1327.08 1820.43,1329.12 1823.08,1331.16 1825.72,1333.20 1828.37,1335.24 1831.02,1337.28 1833.66,1339.32 1836.31,1341.36 1838.96,1343.39 1841.61,1345.43 1844.25,1347.47 1846.90,1349.50 1849.55,1351.53 1852.19,1353.57 1854.84,1355.60 1857.49,1357.63 1860.14,1359.66 1862.78,1361.69 1865.43,1363.72 1868.08,1365.74 1870.72,1367.77 1873.37,1369.79 1876.02,1371.81 1878.67,1373.84 1881.31,1375.86 1883.96,1377.88 1886.61,1379.89 1889.26,1381.91 1891.90,1383.93 1894.55,1385.94 1897.20,1387.95 1899.84,1389.96 1902.49,1391.97 1905.14,1393.98 1907.79,1395.99 1910.43,1397.99 1913.08,1400.00 1915.73,1402.00 1918.38,1404.00 1921.02,1406.00 1923.67,1408.00 1926.32,1409.99 1928.96,1411.99 1931.61,1413.98 1934.26,1415.97 1936.91,1417.96 1939.55,1419.95 1942.20,1421.93 1944.85,1423.91 1947.49,1425.90 1950.14,1427.87 1952.79,1429.85 1955.44,1431.83 1958.08,1433.80 1960.73,1435.77 1963.38,1437.74 1966.03,1439.71 1968.67,1441.67 1971.32,1443.64 1973.97,1445.60 1976.61,1447.55 1979.26,1449.51 1981.91,1451.46 1984.56,1453.42 1987.20,1455.36 1989.85,1457.31 1992.50,1459.25 1995.14,1461.20 1997.79,1463.14 2000.44,1465.07 2003.09,1467.01 2005.73,1468.94 2008.38,1470.87 2011.03,1472.79 2013.67,1474.71 2016.32,1476.63 2018.97,1478.55 2021.62,1480.47 2024.26,1482.38 2026.91,1484.29 2029.56,1486.19 2032.21,1488.10 2034.85,1490.00 2037.50,1491.89" stroke="#fff" stroke-opacity="0.75" stroke-width="5.56" stroke-dasharray="35.6 8.9 5.56 8.9" fill="none" stroke-dashoffset="19.53"/>
</g>
<rect x="130.4" y="1102.5" width="1908.0" height="430.0" fill="none" stroke="#000" stroke-width="1.3"/>
<text x="77.48" y="1499.90" font-size="30" textLength="41.72" lengthAdjust="spacingAndGlyphs" fill="#000" stroke="#000" stroke-width="0.9">−4</text>
<text x="77.43" y="1413.90" font-size="30" textLength="43.08" lengthAdjust="spacingAndGlyphs" fill="#000" stroke="#000" stroke-width="0.9">−2</text>
<text x="99.50" y="1327.90" font-size="30" textLength="21.05" lengthAdjust="spacingAndGlyphs" fill="#000" stroke="#000" stroke-width="0.9">0</text>
<text x="99.70" y="1241.90" font-size="30" textLength="20.79" lengthAdjust="spacingAndGlyphs" fill="#000" stroke="#000" stroke-width="0.9">2</text>
<text x="100.49" y="1155.90" font-size="30" textLength="18.69" lengthAdjust="spacingAndGlyphs" fill="#000" stroke="#000" stroke-width="0.9">4</text>
<text x="2048.20" y="1542.80" font-size="30" textLength="21.05" lengthAdjust="spacingAndGlyphs" fill="#000" stroke="#000" stroke-width="0.9">0</text>
<text x="2048.49" y="1447.24" font-size="30" textLength="38.74" lengthAdjust="spacingAndGlyphs" fill="#000" stroke="#000" stroke-width="0.9">20</text>
<text x="2049.18" y="1351.69" font-size="30" textLength="38.02" lengthAdjust="spacingAndGlyphs" fill="#000" stroke="#000" stroke-width="0.9">40</text>
<text x="2048.42" y="1256.13" font-size="30" textLength="38.81" lengthAdjust="spacingAndGlyphs" fill="#000" stroke="#000" stroke-width="0.9">60</text>
<text x="2048.60" y="1160.58" font-size="30" textLength="38.63" lengthAdjust="spacingAndGlyphs" fill="#000" stroke="#000" stroke-width="0.9">80</text>
<text x="2162.77" y="1112.80" font-size="30" textLength="50.32" lengthAdjust="spacingAndGlyphs" fill="#000" stroke="#000" stroke-width="0.9">0.0</text>
<text x="2162.77" y="1198.80" font-size="30" textLength="50.28" lengthAdjust="spacingAndGlyphs" fill="#000" stroke="#000" stroke-width="0.9">0.2</text>
<text x="2162.81" y="1284.80" font-size="30" textLength="48.98" lengthAdjust="spacingAndGlyphs" fill="#000" stroke="#000" stroke-width="0.9">0.4</text>
<text x="2162.77" y="1370.80" font-size="30" textLength="50.13" lengthAdjust="spacingAndGlyphs" fill="#000" stroke="#000" stroke-width="0.9">0.6</text>
<text x="2162.78" y="1456.80" font-size="30" textLength="49.93" lengthAdjust="spacingAndGlyphs" fill="#000" stroke="#000" stroke-width="0.9">0.8</text>
<text x="2161.88" y="1542.80" font-size="30" textLength="51.23" lengthAdjust="spacingAndGlyphs" fill="#000" stroke="#000" stroke-width="0.9">1.0</text>
<text x="2326.28" y="1112.80" font-size="30" textLength="58.76" lengthAdjust="spacingAndGlyphs" fill="#000" stroke="#000" stroke-width="0.9">100</text>
<text x="2327.43" y="1225.96" font-size="30" textLength="38.70" lengthAdjust="spacingAndGlyphs" fill="#000" stroke="#000" stroke-width="0.9">50</text>
<text x="2327.00" y="1339.12" font-size="30" textLength="21.05" lengthAdjust="spacingAndGlyphs" fill="#000" stroke="#000" stroke-width="0.9">0</text>
<text x="2326.94" y="1452.27" font-size="30" textLength="63.59" lengthAdjust="spacingAndGlyphs" fill="#000" stroke="#000" stroke-width="0.9">−50</text>
<path d="M124.9 1489.50H130.4M124.9 1403.50H130.4M124.9 1317.50H130.4M124.9 1231.50H130.4M124.9 1145.50H130.4M131.50 1532.5v5.5M369.75 1532.5v5.5M608.00 1532.5v5.5M846.25 1532.5v5.5M1084.50 1532.5v5.5M1322.75 1532.5v5.5M1561.00 1532.5v5.5M1799.25 1532.5v5.5M2037.50 1532.5v5.5M2038.4 1532.50h5.5M2038.4 1436.94h5.5M2038.4 1341.39h5.5M2038.4 1245.83h5.5M2038.4 1150.28h5.5M2152.6 1102.5V1532.5M2152.6 1102.50h5.5M2152.6 1188.50h5.5M2152.6 1274.50h5.5M2152.6 1360.50h5.5M2152.6 1446.50h5.5M2152.6 1532.50h5.5M2314.4 1532.50h3.5M2314.4 1509.87h3.5M2314.4 1487.24h3.5M2314.4 1464.61h3.5M2314.4 1441.97h5.5M2314.4 1419.34h3.5M2314.4 1396.71h3.5M2314.4 1374.08h3.5M2314.4 1351.45h3.5M2314.4 1328.82h5.5M2314.4 1306.18h3.5M2314.4 1283.55h3.5M2314.4 1260.92h3.5M2314.4 1238.29h3.5M2314.4 1215.66h5.5M2314.4 1193.03h3.5M2314.4 1170.39h3.5M2314.4 1147.76h3.5M2314.4 1125.13h3.5M2314.4 1102.50h5.5" stroke="#000" stroke-width="1.2" fill="none"/>
<rect x="2292.5" y="1102.5" width="21.90000000000009" height="430.0" fill="url(#cbg)" stroke="#000" stroke-width="1.2"/>
<text transform="translate(32.60,1389.00) rotate(-90)" x="-1.08" y="0" font-size="30" textLength="140.35" lengthAdjust="spacingAndGlyphs" fill="#000" stroke="#000" stroke-width="0.9">5.00MHz</text>
<text transform="translate(62.70,1462.30) rotate(-90)" x="-2.32" y="0" font-size="30" textLength="292.64" lengthAdjust="spacingAndGlyphs" fill="#000" stroke="#000" stroke-width="0.9">Doppler Shift (Hz)</text>
<text transform="translate(2114.10,1489.70) rotate(-90)" x="-0.97" y="0" font-size="30" textLength="346.83" lengthAdjust="spacingAndGlyphs" fill="#000" stroke="#000" stroke-width="0.9">Solar Elevation Angle</text>
<text transform="translate(2240.00,1476.00) rotate(-90)" x="-2.22" y="0" font-size="30" textLength="321.28" lengthAdjust="spacingAndGlyphs" fill="#000" stroke="#000" stroke-width="0.9">Eclipse Obscuration</text>
<text transform="translate(2415.70,1387.80) rotate(-90)" x="-2.21" y="0" font-size="30" textLength="143.26" lengthAdjust="spacingAndGlyphs" fill="#000" stroke="#000" stroke-width="0.9">PSD (dB)</text>
<text x="86.09" y="1562.60" font-size="30" textLength="90.86" lengthAdjust="spacingAndGlyphs" fill="#000" stroke="#000" stroke-width="0.9">00:00</text>
<text x="324.34" y="1562.60" font-size="30" textLength="90.86" lengthAdjust="spacingAndGlyphs" fill="#000" stroke="#000" stroke-width="0.9">03:00</text>
<text x="562.59" y="1562.60" font-size="30" textLength="90.86" lengthAdjust="spacingAndGlyphs" fill="#000" stroke="#000" stroke-width="0.9">06:00</text>
<text x="800.84" y="1562.60" font-size="30" textLength="90.86" lengthAdjust="spacingAndGlyphs" fill="#000" stroke="#000" stroke-width="0.9">09:00</text>
<text x="1038.24" y="1562.60" font-size="30" textLength="91.73" lengthAdjust="spacingAndGlyphs" fill="#000" stroke="#000" stroke-width="0.9">12:00</text>
<text x="1276.49" y="1562.60" font-size="30" textLength="91.73" lengthAdjust="spacingAndGlyphs" fill="#000" stroke="#000" stroke-width="0.9">15:00</text>
<text x="1514.74" y="1562.60" font-size="30" textLength="91.73" lengthAdjust="spacingAndGlyphs" fill="#000" stroke="#000" stroke-width="0.9">18:00</text>
<text x="1754.02" y="1562.60" font-size="30" textLength="90.68" lengthAdjust="spacingAndGlyphs" fill="#000" stroke="#000" stroke-width="0.9">21:00</text>
<text x="1992.09" y="1562.60" font-size="30" textLength="90.86" lengthAdjust="spacingAndGlyphs" fill="#000" stroke="#000" stroke-width="0.9">00:00</text>
<text x="1053.08" y="1596.80" font-size="30" textLength="62.25" lengthAdjust="spacingAndGlyphs" fill="#000" stroke="#000" stroke-width="0.9">UTC</text>
</svg></body></html>
